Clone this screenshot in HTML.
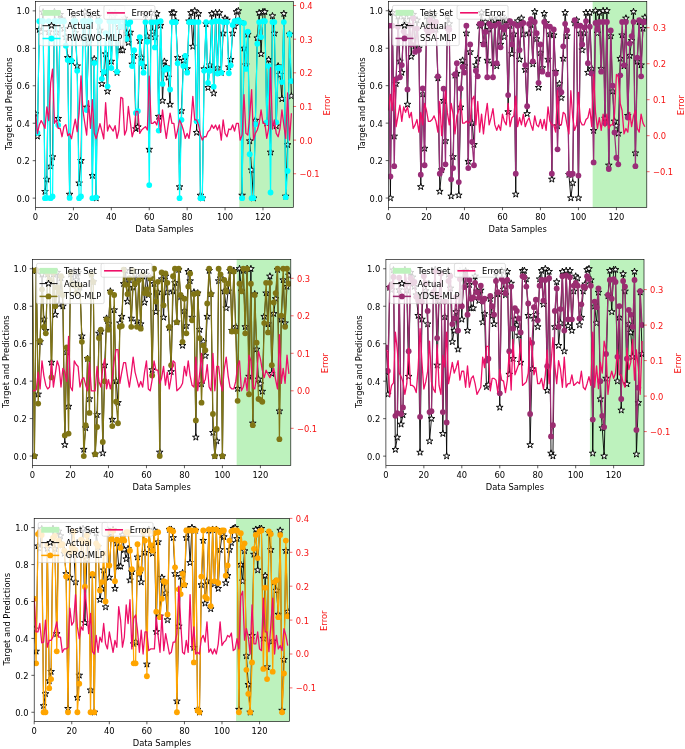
<!DOCTYPE html>
<html><head><meta charset="utf-8"><title>Target and Predictions</title>
<style>html,body{margin:0;padding:0;background:#fff}svg{display:block}#fig{width:685px;height:749px;will-change:transform;background:#fff}</style></head>
<body>
<div id="fig">
<svg width="685" height="749" viewBox="0 0 685 749" font-family='"DejaVu Sans","Liberation Sans",sans-serif' font-size="8.35">
<defs><path id="st" d="M0 -3.5 L0.79 -1.08 L3.33 -1.08 L1.27 0.41 L2.06 2.83 L0 1.34 L-2.06 2.83 L-1.27 0.41 L-3.33 -1.08 L-0.79 -1.08Z" fill="#fff" stroke="#000" stroke-width="0.95" stroke-linejoin="miter"/></defs>
<rect width="685" height="749" fill="#fff"/>
<g id="panel1">
<clipPath id="c0"><rect x="35.5" y="1.5" width="257.8" height="206"/></clipPath>
<rect x="239.28" y="1.5" width="54.02" height="206" fill="#bdf2bd"/>
<g clip-path="url(#c0)">
<polyline points="35.5,113.86 37.4,136.34 39.29,29.59 41.19,32.03 43.08,12.17 44.98,191.58 46.87,179.41 48.77,32.03 50.66,166.3 52.56,156.94 54.46,11.8 56.35,32.4 58.25,118.55 60.14,14.61 62.04,19.29 63.93,28.65 65.83,37.08 67.72,57.68 69.62,194.39 71.52,61.43 73.41,14.61 75.31,32.77 77.2,66.11 79.1,183.15 80.99,160.68 82.89,38.02 84.79,11.8 86.68,107.31 88.58,43.07 90.47,14.61 92.37,175.66 94.26,58.99 96.16,198.14 98.05,16.48 99.95,30.34 101.85,83.9 103.74,72.66 105.64,53.94 107.53,91.39 109.43,12.74 111.32,61.43 113.22,16.11 115.11,13.11 117.01,72.66 118.91,26.78 120.8,50.19 122.7,50.19 124.59,18.35 126.49,33.34 128.38,42.7 130.28,32.4 132.18,64.24 134.07,55.81 135.97,128.85 137.86,126.97 139.76,40.83 141.65,57.68 143.55,66.11 145.44,14.61 147.34,36.15 149.24,149.45 151.13,12.74 153.03,31.46 154.92,37.08 156.82,13.67 158.71,116.49 160.61,25.47 162.5,100.75 164.4,61.43 166.3,67.05 168.19,77.35 170.09,104.5 171.98,12.74 173.88,12.74 175.77,21.16 177.67,57.68 179.56,186.9 181.46,110.87 183.36,60.49 185.25,56.75 187.15,68.92 189.04,21.16 190.94,12.74 192.83,46.45 194.73,10.86 196.62,132.59 198.52,13.67 200.42,195.33 202.31,198.14 204.21,68.92 206.1,23.97 208,87.65 209.89,65.17 211.79,13.67 213.69,93.26 215.58,12.74 217.48,67.98 219.37,12.74 221.27,72.66 223.16,33.34 225.06,18.35 226.95,20.23 228.85,67.05 230.75,59.55 232.64,33.34 234.54,26.22 236.43,11.8 238.33,10.86 240.22,22.1 242.12,195.33 244.01,48.32 245.91,65.17 247.81,34.46 249.7,141.02 251.6,170.05 253.49,198.14 255.39,120.42 257.28,38.02 259.18,12.74 261.08,53.94 262.97,11.8 264.87,11.8 266.76,123.23 268.66,59.55 270.55,152.25 272.45,15.92 274.34,33.34 276.24,126.04 278.14,66.11 280.03,74.54 281.93,98.88 283.82,13.67 285.72,196.26 287.61,144.76 289.51,34.27 291.4,96.07" fill="none" stroke="#000" stroke-width="0.9" stroke-linejoin="round"/>
<use href="#st" x="35.5" y="113.86"/><use href="#st" x="37.4" y="136.34"/><use href="#st" x="39.29" y="29.59"/><use href="#st" x="41.19" y="32.03"/><use href="#st" x="43.08" y="12.17"/><use href="#st" x="44.98" y="191.58"/><use href="#st" x="46.87" y="179.41"/><use href="#st" x="48.77" y="32.03"/><use href="#st" x="50.66" y="166.3"/><use href="#st" x="52.56" y="156.94"/><use href="#st" x="54.46" y="11.8"/><use href="#st" x="56.35" y="32.4"/><use href="#st" x="58.25" y="118.55"/><use href="#st" x="60.14" y="14.61"/><use href="#st" x="62.04" y="19.29"/><use href="#st" x="63.93" y="28.65"/><use href="#st" x="65.83" y="37.08"/><use href="#st" x="67.72" y="57.68"/><use href="#st" x="69.62" y="194.39"/><use href="#st" x="71.52" y="61.43"/><use href="#st" x="73.41" y="14.61"/><use href="#st" x="75.31" y="32.77"/><use href="#st" x="77.2" y="66.11"/><use href="#st" x="79.1" y="183.15"/><use href="#st" x="80.99" y="160.68"/><use href="#st" x="82.89" y="38.02"/><use href="#st" x="84.79" y="11.8"/><use href="#st" x="86.68" y="107.31"/><use href="#st" x="88.58" y="43.07"/><use href="#st" x="90.47" y="14.61"/><use href="#st" x="92.37" y="175.66"/><use href="#st" x="94.26" y="58.99"/><use href="#st" x="96.16" y="198.14"/><use href="#st" x="98.05" y="16.48"/><use href="#st" x="99.95" y="30.34"/><use href="#st" x="101.85" y="83.9"/><use href="#st" x="103.74" y="72.66"/><use href="#st" x="105.64" y="53.94"/><use href="#st" x="107.53" y="91.39"/><use href="#st" x="109.43" y="12.74"/><use href="#st" x="111.32" y="61.43"/><use href="#st" x="113.22" y="16.11"/><use href="#st" x="115.11" y="13.11"/><use href="#st" x="117.01" y="72.66"/><use href="#st" x="118.91" y="26.78"/><use href="#st" x="120.8" y="50.19"/><use href="#st" x="122.7" y="50.19"/><use href="#st" x="124.59" y="18.35"/><use href="#st" x="126.49" y="33.34"/><use href="#st" x="128.38" y="42.7"/><use href="#st" x="130.28" y="32.4"/><use href="#st" x="132.18" y="64.24"/><use href="#st" x="134.07" y="55.81"/><use href="#st" x="135.97" y="128.85"/><use href="#st" x="137.86" y="126.97"/><use href="#st" x="139.76" y="40.83"/><use href="#st" x="141.65" y="57.68"/><use href="#st" x="143.55" y="66.11"/><use href="#st" x="145.44" y="14.61"/><use href="#st" x="147.34" y="36.15"/><use href="#st" x="149.24" y="149.45"/><use href="#st" x="151.13" y="12.74"/><use href="#st" x="153.03" y="31.46"/><use href="#st" x="154.92" y="37.08"/><use href="#st" x="156.82" y="13.67"/><use href="#st" x="158.71" y="116.49"/><use href="#st" x="160.61" y="25.47"/><use href="#st" x="162.5" y="100.75"/><use href="#st" x="164.4" y="61.43"/><use href="#st" x="166.3" y="67.05"/><use href="#st" x="168.19" y="77.35"/><use href="#st" x="170.09" y="104.5"/><use href="#st" x="171.98" y="12.74"/><use href="#st" x="173.88" y="12.74"/><use href="#st" x="175.77" y="21.16"/><use href="#st" x="177.67" y="57.68"/><use href="#st" x="179.56" y="186.9"/><use href="#st" x="181.46" y="110.87"/><use href="#st" x="183.36" y="60.49"/><use href="#st" x="185.25" y="56.75"/><use href="#st" x="187.15" y="68.92"/><use href="#st" x="189.04" y="21.16"/><use href="#st" x="190.94" y="12.74"/><use href="#st" x="192.83" y="46.45"/><use href="#st" x="194.73" y="10.86"/><use href="#st" x="196.62" y="132.59"/><use href="#st" x="198.52" y="13.67"/><use href="#st" x="200.42" y="195.33"/><use href="#st" x="202.31" y="198.14"/><use href="#st" x="204.21" y="68.92"/><use href="#st" x="206.1" y="23.97"/><use href="#st" x="208" y="87.65"/><use href="#st" x="209.89" y="65.17"/><use href="#st" x="211.79" y="13.67"/><use href="#st" x="213.69" y="93.26"/><use href="#st" x="215.58" y="12.74"/><use href="#st" x="217.48" y="67.98"/><use href="#st" x="219.37" y="12.74"/><use href="#st" x="221.27" y="72.66"/><use href="#st" x="223.16" y="33.34"/><use href="#st" x="225.06" y="18.35"/><use href="#st" x="226.95" y="20.23"/><use href="#st" x="228.85" y="67.05"/><use href="#st" x="230.75" y="59.55"/><use href="#st" x="232.64" y="33.34"/><use href="#st" x="234.54" y="26.22"/><use href="#st" x="236.43" y="11.8"/><use href="#st" x="238.33" y="10.86"/><use href="#st" x="240.22" y="22.1"/><use href="#st" x="242.12" y="195.33"/><use href="#st" x="244.01" y="48.32"/><use href="#st" x="245.91" y="65.17"/><use href="#st" x="247.81" y="34.46"/><use href="#st" x="249.7" y="141.02"/><use href="#st" x="251.6" y="170.05"/><use href="#st" x="253.49" y="198.14"/><use href="#st" x="255.39" y="120.42"/><use href="#st" x="257.28" y="38.02"/><use href="#st" x="259.18" y="12.74"/><use href="#st" x="261.08" y="53.94"/><use href="#st" x="262.97" y="11.8"/><use href="#st" x="264.87" y="11.8"/><use href="#st" x="266.76" y="123.23"/><use href="#st" x="268.66" y="59.55"/><use href="#st" x="270.55" y="152.25"/><use href="#st" x="272.45" y="15.92"/><use href="#st" x="274.34" y="33.34"/><use href="#st" x="276.24" y="126.04"/><use href="#st" x="278.14" y="66.11"/><use href="#st" x="280.03" y="74.54"/><use href="#st" x="281.93" y="98.88"/><use href="#st" x="283.82" y="13.67"/><use href="#st" x="285.72" y="196.26"/><use href="#st" x="287.61" y="144.76"/><use href="#st" x="289.51" y="34.27"/><use href="#st" x="291.4" y="96.07"/>
<polyline points="35.5,128.1 37.4,132.78 39.29,21.16 41.19,21.16 43.08,21.16 44.98,198.14 46.87,197.95 48.77,21.16 50.66,198.14 52.56,196.45 54.46,21.16 56.35,21.16 58.25,125.1 60.14,21.16 62.04,21.16 63.93,21.16 65.83,45.7 67.72,60.12 69.62,197.95 71.52,60.68 73.41,21.16 75.31,21.16 77.2,70.79 79.1,198.14 80.99,196.45 82.89,21.16 84.79,21.16 86.68,110.12 88.58,21.16 90.47,21.16 92.37,198.14 94.26,62.93 96.16,197.39 98.05,21.16 99.95,21.16 101.85,78.84 103.74,71.91 105.64,33.15 107.53,86.33 109.43,21.16 111.32,67.98 113.22,21.16 115.11,21.16 117.01,71.73 118.91,21.16 120.8,26.41 122.7,26.97 124.59,21.16 126.49,38.95 128.38,23.97 130.28,22.1 132.18,66.11 134.07,50.19 135.97,112.93 137.86,111.05 139.76,37.08 141.65,63.3 143.55,72.66 145.44,22.1 147.34,41.76 149.24,185.03 151.13,22.1 153.03,22.1 154.92,47.38 156.82,22.1 158.71,130.53 160.61,21.16 162.5,83.9 164.4,69.85 166.3,67.98 168.19,68.92 170.09,89.52 171.98,22.1 173.88,22.1 175.77,22.1 177.67,63.3 179.56,198.14 181.46,119.86 183.36,66.11 185.25,55.81 187.15,72.66 189.04,22.1 190.94,22.1 192.83,22.1 194.73,22.1 196.62,121.35 198.52,22.1 200.42,198.14 202.31,198.14 204.21,70.79 206.1,22.1 208,82.96 209.89,70.79 211.79,22.1 213.69,86.71 215.58,21.16 217.48,73.6 219.37,21.16 221.27,72.66 223.16,22.1 225.06,22.1 226.95,22.1 228.85,73.23 230.75,65.36 232.64,24.91 234.54,21.16 236.43,21.16 238.33,20.23 240.22,22.1 242.12,198.14 244.01,23.04 245.91,68.92 247.81,31.65 249.7,154.13 251.6,198.14 253.49,198.14 255.39,124.16 257.28,43.64 259.18,22.1 261.08,37.08 262.97,21.16 264.87,21.16 266.76,122.29 268.66,66.11 270.55,192.52 272.45,22.1 274.34,22.1 276.24,122.29 278.14,67.98 280.03,67.98 281.93,82.03 283.82,22.1 285.72,197.2 287.61,170.98 289.51,34.27 291.4,81.09" fill="none" stroke="#00ffff" stroke-width="1.25" stroke-linejoin="round"/>
<g fill="#00ffff"><circle cx="35.5" cy="128.1" r="2.9"/><circle cx="37.4" cy="132.78" r="2.9"/><circle cx="39.29" cy="21.16" r="2.9"/><circle cx="41.19" cy="21.16" r="2.9"/><circle cx="43.08" cy="21.16" r="2.9"/><circle cx="44.98" cy="198.14" r="2.9"/><circle cx="46.87" cy="197.95" r="2.9"/><circle cx="48.77" cy="21.16" r="2.9"/><circle cx="50.66" cy="198.14" r="2.9"/><circle cx="52.56" cy="196.45" r="2.9"/><circle cx="54.46" cy="21.16" r="2.9"/><circle cx="56.35" cy="21.16" r="2.9"/><circle cx="58.25" cy="125.1" r="2.9"/><circle cx="60.14" cy="21.16" r="2.9"/><circle cx="62.04" cy="21.16" r="2.9"/><circle cx="63.93" cy="21.16" r="2.9"/><circle cx="65.83" cy="45.7" r="2.9"/><circle cx="67.72" cy="60.12" r="2.9"/><circle cx="69.62" cy="197.95" r="2.9"/><circle cx="71.52" cy="60.68" r="2.9"/><circle cx="73.41" cy="21.16" r="2.9"/><circle cx="75.31" cy="21.16" r="2.9"/><circle cx="77.2" cy="70.79" r="2.9"/><circle cx="79.1" cy="198.14" r="2.9"/><circle cx="80.99" cy="196.45" r="2.9"/><circle cx="82.89" cy="21.16" r="2.9"/><circle cx="84.79" cy="21.16" r="2.9"/><circle cx="86.68" cy="110.12" r="2.9"/><circle cx="88.58" cy="21.16" r="2.9"/><circle cx="90.47" cy="21.16" r="2.9"/><circle cx="92.37" cy="198.14" r="2.9"/><circle cx="94.26" cy="62.93" r="2.9"/><circle cx="96.16" cy="197.39" r="2.9"/><circle cx="98.05" cy="21.16" r="2.9"/><circle cx="99.95" cy="21.16" r="2.9"/><circle cx="101.85" cy="78.84" r="2.9"/><circle cx="103.74" cy="71.91" r="2.9"/><circle cx="105.64" cy="33.15" r="2.9"/><circle cx="107.53" cy="86.33" r="2.9"/><circle cx="109.43" cy="21.16" r="2.9"/><circle cx="111.32" cy="67.98" r="2.9"/><circle cx="113.22" cy="21.16" r="2.9"/><circle cx="115.11" cy="21.16" r="2.9"/><circle cx="117.01" cy="71.73" r="2.9"/><circle cx="118.91" cy="21.16" r="2.9"/><circle cx="120.8" cy="26.41" r="2.9"/><circle cx="122.7" cy="26.97" r="2.9"/><circle cx="124.59" cy="21.16" r="2.9"/><circle cx="126.49" cy="38.95" r="2.9"/><circle cx="128.38" cy="23.97" r="2.9"/><circle cx="130.28" cy="22.1" r="2.9"/><circle cx="132.18" cy="66.11" r="2.9"/><circle cx="134.07" cy="50.19" r="2.9"/><circle cx="135.97" cy="112.93" r="2.9"/><circle cx="137.86" cy="111.05" r="2.9"/><circle cx="139.76" cy="37.08" r="2.9"/><circle cx="141.65" cy="63.3" r="2.9"/><circle cx="143.55" cy="72.66" r="2.9"/><circle cx="145.44" cy="22.1" r="2.9"/><circle cx="147.34" cy="41.76" r="2.9"/><circle cx="149.24" cy="185.03" r="2.9"/><circle cx="151.13" cy="22.1" r="2.9"/><circle cx="153.03" cy="22.1" r="2.9"/><circle cx="154.92" cy="47.38" r="2.9"/><circle cx="156.82" cy="22.1" r="2.9"/><circle cx="158.71" cy="130.53" r="2.9"/><circle cx="160.61" cy="21.16" r="2.9"/><circle cx="162.5" cy="83.9" r="2.9"/><circle cx="164.4" cy="69.85" r="2.9"/><circle cx="166.3" cy="67.98" r="2.9"/><circle cx="168.19" cy="68.92" r="2.9"/><circle cx="170.09" cy="89.52" r="2.9"/><circle cx="171.98" cy="22.1" r="2.9"/><circle cx="173.88" cy="22.1" r="2.9"/><circle cx="175.77" cy="22.1" r="2.9"/><circle cx="177.67" cy="63.3" r="2.9"/><circle cx="179.56" cy="198.14" r="2.9"/><circle cx="181.46" cy="119.86" r="2.9"/><circle cx="183.36" cy="66.11" r="2.9"/><circle cx="185.25" cy="55.81" r="2.9"/><circle cx="187.15" cy="72.66" r="2.9"/><circle cx="189.04" cy="22.1" r="2.9"/><circle cx="190.94" cy="22.1" r="2.9"/><circle cx="192.83" cy="22.1" r="2.9"/><circle cx="194.73" cy="22.1" r="2.9"/><circle cx="196.62" cy="121.35" r="2.9"/><circle cx="198.52" cy="22.1" r="2.9"/><circle cx="200.42" cy="198.14" r="2.9"/><circle cx="202.31" cy="198.14" r="2.9"/><circle cx="204.21" cy="70.79" r="2.9"/><circle cx="206.1" cy="22.1" r="2.9"/><circle cx="208" cy="82.96" r="2.9"/><circle cx="209.89" cy="70.79" r="2.9"/><circle cx="211.79" cy="22.1" r="2.9"/><circle cx="213.69" cy="86.71" r="2.9"/><circle cx="215.58" cy="21.16" r="2.9"/><circle cx="217.48" cy="73.6" r="2.9"/><circle cx="219.37" cy="21.16" r="2.9"/><circle cx="221.27" cy="72.66" r="2.9"/><circle cx="223.16" cy="22.1" r="2.9"/><circle cx="225.06" cy="22.1" r="2.9"/><circle cx="226.95" cy="22.1" r="2.9"/><circle cx="228.85" cy="73.23" r="2.9"/><circle cx="230.75" cy="65.36" r="2.9"/><circle cx="232.64" cy="24.91" r="2.9"/><circle cx="234.54" cy="21.16" r="2.9"/><circle cx="236.43" cy="21.16" r="2.9"/><circle cx="238.33" cy="20.23" r="2.9"/><circle cx="240.22" cy="22.1" r="2.9"/><circle cx="242.12" cy="198.14" r="2.9"/><circle cx="244.01" cy="23.04" r="2.9"/><circle cx="245.91" cy="68.92" r="2.9"/><circle cx="247.81" cy="31.65" r="2.9"/><circle cx="249.7" cy="154.13" r="2.9"/><circle cx="251.6" cy="198.14" r="2.9"/><circle cx="253.49" cy="198.14" r="2.9"/><circle cx="255.39" cy="124.16" r="2.9"/><circle cx="257.28" cy="43.64" r="2.9"/><circle cx="259.18" cy="22.1" r="2.9"/><circle cx="261.08" cy="37.08" r="2.9"/><circle cx="262.97" cy="21.16" r="2.9"/><circle cx="264.87" cy="21.16" r="2.9"/><circle cx="266.76" cy="122.29" r="2.9"/><circle cx="268.66" cy="66.11" r="2.9"/><circle cx="270.55" cy="192.52" r="2.9"/><circle cx="272.45" cy="22.1" r="2.9"/><circle cx="274.34" cy="22.1" r="2.9"/><circle cx="276.24" cy="122.29" r="2.9"/><circle cx="278.14" cy="67.98" r="2.9"/><circle cx="280.03" cy="67.98" r="2.9"/><circle cx="281.93" cy="82.03" r="2.9"/><circle cx="283.82" cy="22.1" r="2.9"/><circle cx="285.72" cy="197.2" r="2.9"/><circle cx="287.61" cy="170.98" r="2.9"/><circle cx="289.51" cy="34.27" r="2.9"/><circle cx="291.4" cy="81.09" r="2.9"/></g>
</g>
<g stroke="#000" stroke-width="0.64">
<line x1="32.7" x2="35.5" y1="198.14" y2="198.14"/>
<line x1="32.7" x2="35.5" y1="160.68" y2="160.68"/>
<line x1="32.7" x2="35.5" y1="123.23" y2="123.23"/>
<line x1="32.7" x2="35.5" y1="85.77" y2="85.77"/>
<line x1="32.7" x2="35.5" y1="48.32" y2="48.32"/>
<line x1="32.7" x2="35.5" y1="10.86" y2="10.86"/>
<line x1="35.5" x2="35.5" y1="207.5" y2="210.3"/>
<line x1="73.41" x2="73.41" y1="207.5" y2="210.3"/>
<line x1="111.32" x2="111.32" y1="207.5" y2="210.3"/>
<line x1="149.24" x2="149.24" y1="207.5" y2="210.3"/>
<line x1="187.15" x2="187.15" y1="207.5" y2="210.3"/>
<line x1="225.06" x2="225.06" y1="207.5" y2="210.3"/>
<line x1="262.97" x2="262.97" y1="207.5" y2="210.3"/>
</g>
<g fill="#000">
<text x="29.9" y="201.64" text-anchor="end">0.0</text>
<text x="29.9" y="164.18" text-anchor="end">0.2</text>
<text x="29.9" y="126.73" text-anchor="end">0.4</text>
<text x="29.9" y="89.27" text-anchor="end">0.6</text>
<text x="29.9" y="51.82" text-anchor="end">0.8</text>
<text x="29.9" y="14.36" text-anchor="end">1.0</text>
<text x="35.5" y="219.5" text-anchor="middle">0</text>
<text x="73.41" y="219.5" text-anchor="middle">20</text>
<text x="111.32" y="219.5" text-anchor="middle">40</text>
<text x="149.24" y="219.5" text-anchor="middle">60</text>
<text x="187.15" y="219.5" text-anchor="middle">80</text>
<text x="225.06" y="219.5" text-anchor="middle">100</text>
<text x="262.97" y="219.5" text-anchor="middle">120</text>
<text x="164.4" y="231.7" text-anchor="middle">Data Samples</text>
<text transform="translate(11.5 103.7) rotate(-90)" text-anchor="middle">Target and Predictions</text>
</g>
<g id="leg1a">
<rect x="39.5" y="5.5" width="85.4" height="40.2" rx="1.6" fill="#fff" fill-opacity="0.8" stroke="#ccc" stroke-opacity="0.8" stroke-width="0.8"/>
<rect x="42.5" y="10" width="18" height="5.8" fill="#bdf2bd"/>
<text x="67.1" y="15.8">Test Set</text>
<line x1="42.5" x2="60.5" y1="25.7" y2="25.7" stroke="#000" stroke-width="0.9"/>
<use href="#st" x="51.5" y="25.7"/>
<text x="67.1" y="28.6">Actual</text>
<line x1="42.5" x2="60.5" y1="38.5" y2="38.5" stroke="#00ffff" stroke-width="1.5"/>
<circle cx="51.5" cy="38.5" r="2.9" fill="#00ffff"/>
<text x="67.1" y="41.4">RWGWO-MLP</text>
</g>
<polyline clip-path="url(#c0)" points="35.5,114.53 37.4,133.71 39.29,124.96 41.19,120.59 43.08,123.95 44.98,128.33 46.87,106.8 48.77,120.59 50.66,82.91 52.56,69.12 54.46,123.28 56.35,119.92 58.25,128.33 60.14,128.33 62.04,136.74 63.93,126.64 65.83,124.63 67.72,135.73 69.62,133.71 71.52,138.75 73.41,128.33 75.31,119.24 77.2,131.69 79.1,113.19 80.99,75.85 82.89,109.82 84.79,123.28 86.68,135.05 88.58,100.74 90.47,128.33 92.37,99.73 94.26,133.04 96.16,138.75 98.05,131.69 99.95,123.62 101.85,131.02 103.74,138.75 105.64,102.76 107.53,131.02 109.43,124.96 111.32,128.33 113.22,131.02 115.11,125.63 117.01,138.42 118.91,130.01 120.8,97.38 122.7,98.39 124.59,135.05 126.49,130.01 128.38,106.46 130.28,121.6 132.18,136.74 134.07,130.01 135.97,111.51 137.86,111.51 139.76,133.37 141.65,130.01 143.55,128.33 145.44,126.64 147.34,130.01 149.24,76.18 151.13,123.28 153.03,123.28 154.92,121.6 156.82,124.96 158.71,114.87 160.61,132.36 162.5,109.82 164.4,124.96 166.3,138.42 168.19,124.96 170.09,113.19 171.98,123.28 173.88,123.28 175.77,138.42 177.67,130.01 179.56,119.92 181.46,123.95 183.36,130.01 185.25,138.42 187.15,133.37 189.04,138.42 190.94,123.28 192.83,96.37 194.73,119.92 196.62,119.92 198.52,124.96 200.42,135.05 202.31,140.1 204.21,136.74 206.1,136.74 208,131.69 209.89,130.01 211.79,124.96 213.69,128.33 215.58,124.96 217.48,130.01 219.37,124.96 221.27,140.1 223.16,119.92 225.06,133.37 226.95,136.74 228.85,129 230.75,129.67 232.64,124.96 234.54,131.02 236.43,123.28 238.33,123.28 240.22,140.1 242.12,135.05 244.01,94.69 245.91,133.37 247.81,135.05 249.7,116.55 251.6,89.64 253.49,140.1 255.39,133.37 257.28,130.01 259.18,123.28 261.08,109.82 262.97,123.28 264.87,123.28 266.76,138.42 268.66,128.33 270.55,67.77 272.45,129 274.34,119.92 276.24,133.37 278.14,136.74 280.03,128.33 281.93,109.82 283.82,124.96 285.72,138.42 287.61,93 289.51,140.1 291.4,113.19" fill="none" stroke="#ee0f68" stroke-width="1.3" stroke-linejoin="round"/>
<g stroke="#f61212" stroke-width="0.64">
<line x1="293.3" x2="296.1" y1="173.74" y2="173.74"/>
<line x1="293.3" x2="296.1" y1="140.1" y2="140.1"/>
<line x1="293.3" x2="296.1" y1="106.46" y2="106.46"/>
<line x1="293.3" x2="296.1" y1="72.82" y2="72.82"/>
<line x1="293.3" x2="296.1" y1="39.18" y2="39.18"/>
<line x1="293.3" x2="296.1" y1="5.54" y2="5.54"/>
</g>
<g fill="#f61212">
<text x="299.4" y="177.14">−0.1</text>
<text x="299.4" y="143.5">0.0</text>
<text x="299.4" y="109.86">0.1</text>
<text x="299.4" y="76.22">0.2</text>
<text x="299.4" y="42.58">0.3</text>
<text x="299.4" y="8.94">0.4</text>
<text transform="translate(330.4 105.3) rotate(-90)" text-anchor="middle">Error</text>
</g>
<g id="leg1b">
<rect x="103.95" y="5.5" width="51" height="13.8" rx="1.6" fill="#fff" fill-opacity="0.8" stroke="#ccc" stroke-opacity="0.8" stroke-width="0.8"/>
<line x1="106.95" x2="124.95" y1="12.9" y2="12.9" stroke="#ee0f68" stroke-width="1.6"/>
<text x="131.55" y="15.8">Error</text>
</g>
<rect x="35.5" y="1.5" width="257.8" height="206" fill="none" stroke="#000" stroke-width="0.64"/>
</g>
<g id="panel2">
<clipPath id="c1"><rect x="388.5" y="1.4" width="258.3" height="206"/></clipPath>
<rect x="592.67" y="1.4" width="54.13" height="206" fill="#bdf2bd"/>
<g clip-path="url(#c1)">
<polyline points="388.5,12.64 390.4,198.04 392.3,12.64 394.2,136.24 396.1,83.8 398,16.38 399.9,61.33 401.79,72.56 403.69,16.38 405.59,23.87 407.49,104.4 409.39,16.38 411.29,56.65 413.19,14.51 415.09,46.35 416.99,20.13 418.89,48.22 420.79,186.8 422.69,94.1 424.59,148.41 426.49,16.38 428.38,25.75 430.28,12.64 432.18,22 434.08,14.51 435.98,29.49 437.88,78.18 439.78,191.48 441.68,169.95 443.58,100.65 445.48,140.92 447.38,16.38 449.28,23.87 451.18,196.16 453.07,156.84 454.97,75.37 456.87,73.5 458.77,195.23 460.67,107.21 462.57,60.39 464.47,66.01 466.37,33.24 468.27,161.52 470.17,51.96 472.07,123.13 473.97,144.66 475.87,65.07 477.77,58.52 479.66,25.75 481.56,12.64 483.46,43.54 485.36,22 487.26,60.39 489.16,29.49 491.06,16.38 492.96,63.2 494.86,20.13 496.76,66.01 498.66,18.25 500.56,44.47 502.46,16.38 504.36,36.98 506.25,20.13 508.15,111.89 510.05,25.75 511.95,53.84 513.85,34.17 515.75,194.29 517.65,21.06 519.55,59.45 521.45,18.25 523.35,34.17 525.25,69.75 527.15,113.76 529.05,33.24 530.94,24.81 532.84,64.14 534.74,11.7 536.64,38.85 538.54,87.55 540.44,52.9 542.34,67.88 544.24,13.57 546.14,22.94 548.04,59.45 549.94,34.17 551.84,179.31 553.74,35.11 555.64,71.63 557.53,125.94 559.43,83.8 561.33,97.85 563.23,58.52 565.13,12.64 567.03,36.05 568.93,174.63 570.83,198.04 572.73,183.05 574.63,22.94 576.53,20.13 578.43,198.04 580.33,33.24 582.22,50.09 584.12,33.24 586.02,12.64 587.92,72.56 589.82,12.64 591.72,68.82 593.62,130.62 595.52,10.76 597.42,33.24 599.32,12.64 601.22,68.82 603.12,10.76 605.02,118.45 606.92,10.76 608.81,165.26 610.71,36.05 612.61,91.29 614.51,121.25 616.41,125.94 618.31,133.43 620.21,58.52 622.11,35.11 624.01,66.01 625.91,18.25 627.81,115.64 629.71,55.71 631.61,40.73 633.51,11.7 635.4,153.09 637.3,61.33 639.2,22 641.1,65.07 643,28.55 644.9,17.32" fill="none" stroke="#000" stroke-width="0.9" stroke-linejoin="round"/>
<use href="#st" x="388.5" y="12.64"/><use href="#st" x="390.4" y="198.04"/><use href="#st" x="392.3" y="12.64"/><use href="#st" x="394.2" y="136.24"/><use href="#st" x="396.1" y="83.8"/><use href="#st" x="398" y="16.38"/><use href="#st" x="399.9" y="61.33"/><use href="#st" x="401.79" y="72.56"/><use href="#st" x="403.69" y="16.38"/><use href="#st" x="405.59" y="23.87"/><use href="#st" x="407.49" y="104.4"/><use href="#st" x="409.39" y="16.38"/><use href="#st" x="411.29" y="56.65"/><use href="#st" x="413.19" y="14.51"/><use href="#st" x="415.09" y="46.35"/><use href="#st" x="416.99" y="20.13"/><use href="#st" x="418.89" y="48.22"/><use href="#st" x="420.79" y="186.8"/><use href="#st" x="422.69" y="94.1"/><use href="#st" x="424.59" y="148.41"/><use href="#st" x="426.49" y="16.38"/><use href="#st" x="428.38" y="25.75"/><use href="#st" x="430.28" y="12.64"/><use href="#st" x="432.18" y="22"/><use href="#st" x="434.08" y="14.51"/><use href="#st" x="435.98" y="29.49"/><use href="#st" x="437.88" y="78.18"/><use href="#st" x="439.78" y="191.48"/><use href="#st" x="441.68" y="169.95"/><use href="#st" x="443.58" y="100.65"/><use href="#st" x="445.48" y="140.92"/><use href="#st" x="447.38" y="16.38"/><use href="#st" x="449.28" y="23.87"/><use href="#st" x="451.18" y="196.16"/><use href="#st" x="453.07" y="156.84"/><use href="#st" x="454.97" y="75.37"/><use href="#st" x="456.87" y="73.5"/><use href="#st" x="458.77" y="195.23"/><use href="#st" x="460.67" y="107.21"/><use href="#st" x="462.57" y="60.39"/><use href="#st" x="464.47" y="66.01"/><use href="#st" x="466.37" y="33.24"/><use href="#st" x="468.27" y="161.52"/><use href="#st" x="470.17" y="51.96"/><use href="#st" x="472.07" y="123.13"/><use href="#st" x="473.97" y="144.66"/><use href="#st" x="475.87" y="65.07"/><use href="#st" x="477.77" y="58.52"/><use href="#st" x="479.66" y="25.75"/><use href="#st" x="481.56" y="12.64"/><use href="#st" x="483.46" y="43.54"/><use href="#st" x="485.36" y="22"/><use href="#st" x="487.26" y="60.39"/><use href="#st" x="489.16" y="29.49"/><use href="#st" x="491.06" y="16.38"/><use href="#st" x="492.96" y="63.2"/><use href="#st" x="494.86" y="20.13"/><use href="#st" x="496.76" y="66.01"/><use href="#st" x="498.66" y="18.25"/><use href="#st" x="500.56" y="44.47"/><use href="#st" x="502.46" y="16.38"/><use href="#st" x="504.36" y="36.98"/><use href="#st" x="506.25" y="20.13"/><use href="#st" x="508.15" y="111.89"/><use href="#st" x="510.05" y="25.75"/><use href="#st" x="511.95" y="53.84"/><use href="#st" x="513.85" y="34.17"/><use href="#st" x="515.75" y="194.29"/><use href="#st" x="517.65" y="21.06"/><use href="#st" x="519.55" y="59.45"/><use href="#st" x="521.45" y="18.25"/><use href="#st" x="523.35" y="34.17"/><use href="#st" x="525.25" y="69.75"/><use href="#st" x="527.15" y="113.76"/><use href="#st" x="529.05" y="33.24"/><use href="#st" x="530.94" y="24.81"/><use href="#st" x="532.84" y="64.14"/><use href="#st" x="534.74" y="11.7"/><use href="#st" x="536.64" y="38.85"/><use href="#st" x="538.54" y="87.55"/><use href="#st" x="540.44" y="52.9"/><use href="#st" x="542.34" y="67.88"/><use href="#st" x="544.24" y="13.57"/><use href="#st" x="546.14" y="22.94"/><use href="#st" x="548.04" y="59.45"/><use href="#st" x="549.94" y="34.17"/><use href="#st" x="551.84" y="179.31"/><use href="#st" x="553.74" y="35.11"/><use href="#st" x="555.64" y="71.63"/><use href="#st" x="557.53" y="125.94"/><use href="#st" x="559.43" y="83.8"/><use href="#st" x="561.33" y="97.85"/><use href="#st" x="563.23" y="58.52"/><use href="#st" x="565.13" y="12.64"/><use href="#st" x="567.03" y="36.05"/><use href="#st" x="568.93" y="174.63"/><use href="#st" x="570.83" y="198.04"/><use href="#st" x="572.73" y="183.05"/><use href="#st" x="574.63" y="22.94"/><use href="#st" x="576.53" y="20.13"/><use href="#st" x="578.43" y="198.04"/><use href="#st" x="580.33" y="33.24"/><use href="#st" x="582.22" y="50.09"/><use href="#st" x="584.12" y="33.24"/><use href="#st" x="586.02" y="12.64"/><use href="#st" x="587.92" y="72.56"/><use href="#st" x="589.82" y="12.64"/><use href="#st" x="591.72" y="68.82"/><use href="#st" x="593.62" y="130.62"/><use href="#st" x="595.52" y="10.76"/><use href="#st" x="597.42" y="33.24"/><use href="#st" x="599.32" y="12.64"/><use href="#st" x="601.22" y="68.82"/><use href="#st" x="603.12" y="10.76"/><use href="#st" x="605.02" y="118.45"/><use href="#st" x="606.92" y="10.76"/><use href="#st" x="608.81" y="165.26"/><use href="#st" x="610.71" y="36.05"/><use href="#st" x="612.61" y="91.29"/><use href="#st" x="614.51" y="121.25"/><use href="#st" x="616.41" y="125.94"/><use href="#st" x="618.31" y="133.43"/><use href="#st" x="620.21" y="58.52"/><use href="#st" x="622.11" y="35.11"/><use href="#st" x="624.01" y="66.01"/><use href="#st" x="625.91" y="18.25"/><use href="#st" x="627.81" y="115.64"/><use href="#st" x="629.71" y="55.71"/><use href="#st" x="631.61" y="40.73"/><use href="#st" x="633.51" y="11.7"/><use href="#st" x="635.4" y="153.09"/><use href="#st" x="637.3" y="61.33"/><use href="#st" x="639.2" y="22"/><use href="#st" x="641.1" y="65.07"/><use href="#st" x="643" y="28.55"/><use href="#st" x="644.9" y="17.32"/>
<polyline points="388.5,25.75 390.4,176.5 392.3,25.75 394.2,166.2 396.1,79.12 398,26.68 399.9,77.25 401.79,65.07 403.69,31.36 405.59,36.05 407.49,89.42 409.39,25.75 411.29,44.47 413.19,18.25 415.09,51.96 416.99,28.55 418.89,50.09 420.79,174.63 422.69,88.48 424.59,165.26 426.49,29.49 428.38,33.24 430.28,20.13 432.18,30.43 434.08,24.81 435.98,22 437.88,76.31 439.78,173.69 441.68,169.95 443.58,88.67 445.48,164.33 447.38,28.37 449.28,29.49 451.18,179.31 453.07,168.07 454.97,74.44 456.87,63.2 458.77,182.12 460.67,88.48 462.57,66.95 464.47,72.56 466.37,25.75 468.27,168.07 470.17,44.47 472.07,141.85 473.97,165.26 475.87,70.69 477.77,76.31 479.66,23.87 481.56,23.87 483.46,44.47 485.36,31.93 487.26,77.25 489.16,23.87 491.06,25.75 492.96,77.25 494.86,25.75 496.76,63.2 498.66,23.87 500.56,47.28 502.46,27.62 504.36,29.49 506.25,25.75 508.15,95.04 510.05,21.06 511.95,44.47 513.85,23.87 515.75,173.69 517.65,25.75 519.55,50.09 521.45,23.87 523.35,22.94 525.25,65.07 527.15,106.27 529.05,23.87 530.94,19.19 532.84,61.33 534.74,22 536.64,33.24 538.54,82.86 540.44,44.47 542.34,71.63 544.24,22 546.14,25.75 548.04,74.44 549.94,26.68 551.84,173.69 553.74,29.49 555.64,73.5 557.53,149.35 559.43,89.42 561.33,92.23 563.23,46.35 565.13,23.87 567.03,30.43 568.93,173.69 570.83,174.63 572.73,173.69 574.63,20.13 576.53,25.75 578.43,175.56 580.33,25.75 582.22,44.47 584.12,27.62 586.02,21.06 587.92,63.2 589.82,26.68 591.72,73.5 593.62,162.45 595.52,22.94 597.42,29.49 599.32,22 601.22,71.63 603.12,22 605.02,123.13 606.92,22 608.81,169.01 610.71,30.43 612.61,85.67 614.51,132.49 616.41,157.77 618.31,164.33 620.21,75.37 622.11,22 624.01,65.07 625.91,22 627.81,117.51 629.71,43.54 631.61,36.05 633.51,22 635.4,166.2 637.3,57.58 639.2,20.13 641.1,76.31 643,22 644.9,22" fill="none" stroke="#9a2d78" stroke-width="1.25" stroke-linejoin="round"/>
<g fill="#9a2d78"><circle cx="388.5" cy="25.75" r="2.9"/><circle cx="390.4" cy="176.5" r="2.9"/><circle cx="392.3" cy="25.75" r="2.9"/><circle cx="394.2" cy="166.2" r="2.9"/><circle cx="396.1" cy="79.12" r="2.9"/><circle cx="398" cy="26.68" r="2.9"/><circle cx="399.9" cy="77.25" r="2.9"/><circle cx="401.79" cy="65.07" r="2.9"/><circle cx="403.69" cy="31.36" r="2.9"/><circle cx="405.59" cy="36.05" r="2.9"/><circle cx="407.49" cy="89.42" r="2.9"/><circle cx="409.39" cy="25.75" r="2.9"/><circle cx="411.29" cy="44.47" r="2.9"/><circle cx="413.19" cy="18.25" r="2.9"/><circle cx="415.09" cy="51.96" r="2.9"/><circle cx="416.99" cy="28.55" r="2.9"/><circle cx="418.89" cy="50.09" r="2.9"/><circle cx="420.79" cy="174.63" r="2.9"/><circle cx="422.69" cy="88.48" r="2.9"/><circle cx="424.59" cy="165.26" r="2.9"/><circle cx="426.49" cy="29.49" r="2.9"/><circle cx="428.38" cy="33.24" r="2.9"/><circle cx="430.28" cy="20.13" r="2.9"/><circle cx="432.18" cy="30.43" r="2.9"/><circle cx="434.08" cy="24.81" r="2.9"/><circle cx="435.98" cy="22" r="2.9"/><circle cx="437.88" cy="76.31" r="2.9"/><circle cx="439.78" cy="173.69" r="2.9"/><circle cx="441.68" cy="169.95" r="2.9"/><circle cx="443.58" cy="88.67" r="2.9"/><circle cx="445.48" cy="164.33" r="2.9"/><circle cx="447.38" cy="28.37" r="2.9"/><circle cx="449.28" cy="29.49" r="2.9"/><circle cx="451.18" cy="179.31" r="2.9"/><circle cx="453.07" cy="168.07" r="2.9"/><circle cx="454.97" cy="74.44" r="2.9"/><circle cx="456.87" cy="63.2" r="2.9"/><circle cx="458.77" cy="182.12" r="2.9"/><circle cx="460.67" cy="88.48" r="2.9"/><circle cx="462.57" cy="66.95" r="2.9"/><circle cx="464.47" cy="72.56" r="2.9"/><circle cx="466.37" cy="25.75" r="2.9"/><circle cx="468.27" cy="168.07" r="2.9"/><circle cx="470.17" cy="44.47" r="2.9"/><circle cx="472.07" cy="141.85" r="2.9"/><circle cx="473.97" cy="165.26" r="2.9"/><circle cx="475.87" cy="70.69" r="2.9"/><circle cx="477.77" cy="76.31" r="2.9"/><circle cx="479.66" cy="23.87" r="2.9"/><circle cx="481.56" cy="23.87" r="2.9"/><circle cx="483.46" cy="44.47" r="2.9"/><circle cx="485.36" cy="31.93" r="2.9"/><circle cx="487.26" cy="77.25" r="2.9"/><circle cx="489.16" cy="23.87" r="2.9"/><circle cx="491.06" cy="25.75" r="2.9"/><circle cx="492.96" cy="77.25" r="2.9"/><circle cx="494.86" cy="25.75" r="2.9"/><circle cx="496.76" cy="63.2" r="2.9"/><circle cx="498.66" cy="23.87" r="2.9"/><circle cx="500.56" cy="47.28" r="2.9"/><circle cx="502.46" cy="27.62" r="2.9"/><circle cx="504.36" cy="29.49" r="2.9"/><circle cx="506.25" cy="25.75" r="2.9"/><circle cx="508.15" cy="95.04" r="2.9"/><circle cx="510.05" cy="21.06" r="2.9"/><circle cx="511.95" cy="44.47" r="2.9"/><circle cx="513.85" cy="23.87" r="2.9"/><circle cx="515.75" cy="173.69" r="2.9"/><circle cx="517.65" cy="25.75" r="2.9"/><circle cx="519.55" cy="50.09" r="2.9"/><circle cx="521.45" cy="23.87" r="2.9"/><circle cx="523.35" cy="22.94" r="2.9"/><circle cx="525.25" cy="65.07" r="2.9"/><circle cx="527.15" cy="106.27" r="2.9"/><circle cx="529.05" cy="23.87" r="2.9"/><circle cx="530.94" cy="19.19" r="2.9"/><circle cx="532.84" cy="61.33" r="2.9"/><circle cx="534.74" cy="22" r="2.9"/><circle cx="536.64" cy="33.24" r="2.9"/><circle cx="538.54" cy="82.86" r="2.9"/><circle cx="540.44" cy="44.47" r="2.9"/><circle cx="542.34" cy="71.63" r="2.9"/><circle cx="544.24" cy="22" r="2.9"/><circle cx="546.14" cy="25.75" r="2.9"/><circle cx="548.04" cy="74.44" r="2.9"/><circle cx="549.94" cy="26.68" r="2.9"/><circle cx="551.84" cy="173.69" r="2.9"/><circle cx="553.74" cy="29.49" r="2.9"/><circle cx="555.64" cy="73.5" r="2.9"/><circle cx="557.53" cy="149.35" r="2.9"/><circle cx="559.43" cy="89.42" r="2.9"/><circle cx="561.33" cy="92.23" r="2.9"/><circle cx="563.23" cy="46.35" r="2.9"/><circle cx="565.13" cy="23.87" r="2.9"/><circle cx="567.03" cy="30.43" r="2.9"/><circle cx="568.93" cy="173.69" r="2.9"/><circle cx="570.83" cy="174.63" r="2.9"/><circle cx="572.73" cy="173.69" r="2.9"/><circle cx="574.63" cy="20.13" r="2.9"/><circle cx="576.53" cy="25.75" r="2.9"/><circle cx="578.43" cy="175.56" r="2.9"/><circle cx="580.33" cy="25.75" r="2.9"/><circle cx="582.22" cy="44.47" r="2.9"/><circle cx="584.12" cy="27.62" r="2.9"/><circle cx="586.02" cy="21.06" r="2.9"/><circle cx="587.92" cy="63.2" r="2.9"/><circle cx="589.82" cy="26.68" r="2.9"/><circle cx="591.72" cy="73.5" r="2.9"/><circle cx="593.62" cy="162.45" r="2.9"/><circle cx="595.52" cy="22.94" r="2.9"/><circle cx="597.42" cy="29.49" r="2.9"/><circle cx="599.32" cy="22" r="2.9"/><circle cx="601.22" cy="71.63" r="2.9"/><circle cx="603.12" cy="22" r="2.9"/><circle cx="605.02" cy="123.13" r="2.9"/><circle cx="606.92" cy="22" r="2.9"/><circle cx="608.81" cy="169.01" r="2.9"/><circle cx="610.71" cy="30.43" r="2.9"/><circle cx="612.61" cy="85.67" r="2.9"/><circle cx="614.51" cy="132.49" r="2.9"/><circle cx="616.41" cy="157.77" r="2.9"/><circle cx="618.31" cy="164.33" r="2.9"/><circle cx="620.21" cy="75.37" r="2.9"/><circle cx="622.11" cy="22" r="2.9"/><circle cx="624.01" cy="65.07" r="2.9"/><circle cx="625.91" cy="22" r="2.9"/><circle cx="627.81" cy="117.51" r="2.9"/><circle cx="629.71" cy="43.54" r="2.9"/><circle cx="631.61" cy="36.05" r="2.9"/><circle cx="633.51" cy="22" r="2.9"/><circle cx="635.4" cy="166.2" r="2.9"/><circle cx="637.3" cy="57.58" r="2.9"/><circle cx="639.2" cy="20.13" r="2.9"/><circle cx="641.1" cy="76.31" r="2.9"/><circle cx="643" cy="22" r="2.9"/><circle cx="644.9" cy="22" r="2.9"/></g>
</g>
<g stroke="#000" stroke-width="0.64">
<line x1="385.7" x2="388.5" y1="198.04" y2="198.04"/>
<line x1="385.7" x2="388.5" y1="160.58" y2="160.58"/>
<line x1="385.7" x2="388.5" y1="123.13" y2="123.13"/>
<line x1="385.7" x2="388.5" y1="85.67" y2="85.67"/>
<line x1="385.7" x2="388.5" y1="48.22" y2="48.22"/>
<line x1="385.7" x2="388.5" y1="10.76" y2="10.76"/>
<line x1="388.5" x2="388.5" y1="207.4" y2="210.2"/>
<line x1="426.49" x2="426.49" y1="207.4" y2="210.2"/>
<line x1="464.47" x2="464.47" y1="207.4" y2="210.2"/>
<line x1="502.46" x2="502.46" y1="207.4" y2="210.2"/>
<line x1="540.44" x2="540.44" y1="207.4" y2="210.2"/>
<line x1="578.43" x2="578.43" y1="207.4" y2="210.2"/>
<line x1="616.41" x2="616.41" y1="207.4" y2="210.2"/>
</g>
<g fill="#000">
<text x="382.9" y="201.54" text-anchor="end">0.0</text>
<text x="382.9" y="164.08" text-anchor="end">0.2</text>
<text x="382.9" y="126.63" text-anchor="end">0.4</text>
<text x="382.9" y="89.17" text-anchor="end">0.6</text>
<text x="382.9" y="51.72" text-anchor="end">0.8</text>
<text x="382.9" y="14.26" text-anchor="end">1.0</text>
<text x="388.5" y="219.9" text-anchor="middle">0</text>
<text x="426.49" y="219.9" text-anchor="middle">20</text>
<text x="464.47" y="219.9" text-anchor="middle">40</text>
<text x="502.46" y="219.9" text-anchor="middle">60</text>
<text x="540.44" y="219.9" text-anchor="middle">80</text>
<text x="578.43" y="219.9" text-anchor="middle">100</text>
<text x="616.41" y="219.9" text-anchor="middle">120</text>
<text x="517.65" y="231.6" text-anchor="middle">Data Samples</text>
<text transform="translate(364.5 103.6) rotate(-90)" text-anchor="middle">Target and Predictions</text>
</g>
<g id="leg2a">
<rect x="392.5" y="5.4" width="66.7" height="40.2" rx="1.6" fill="#fff" fill-opacity="0.8" stroke="#ccc" stroke-opacity="0.8" stroke-width="0.8"/>
<rect x="395.5" y="9.9" width="18" height="5.8" fill="#bdf2bd"/>
<text x="420.1" y="15.7">Test Set</text>
<line x1="395.5" x2="413.5" y1="25.6" y2="25.6" stroke="#000" stroke-width="0.9"/>
<use href="#st" x="404.5" y="25.6"/>
<text x="420.1" y="28.5">Actual</text>
<line x1="395.5" x2="413.5" y1="38.4" y2="38.4" stroke="#9a2d78" stroke-width="1.5"/>
<circle cx="404.5" cy="38.4" r="2.9" fill="#9a2d78"/>
<text x="420.1" y="41.3">SSA-MLP</text>
</g>
<polyline clip-path="url(#c1)" points="388.5,110.5 390.4,94.3 392.3,110.5 394.2,78.1 396.1,126.7 398,115.9 399.9,105.1 401.79,121.3 403.69,106.9 405.59,112.3 407.49,106.9 409.39,117.7 411.29,112.3 413.19,128.5 415.09,124.9 416.99,119.5 418.89,132.1 420.79,112.3 422.69,124.9 424.59,103.3 426.49,110.5 428.38,121.3 430.28,121.3 432.18,119.5 434.08,115.9 435.98,121.3 437.88,132.1 439.78,101.5 441.68,135.7 443.58,112.66 445.48,90.7 447.38,112.66 449.28,124.9 451.18,103.3 453.07,114.1 454.97,133.9 456.87,115.9 458.77,110.5 460.67,99.7 462.57,123.1 464.47,123.1 466.37,121.3 468.27,123.1 470.17,121.3 472.07,99.7 473.97,96.1 475.87,124.9 477.77,101.5 479.66,132.1 481.56,114.1 483.46,133.9 485.36,116.62 487.26,103.3 489.16,124.9 491.06,117.7 492.96,108.7 494.86,124.9 496.76,130.3 498.66,124.9 500.56,130.3 502.46,114.1 504.36,121.3 506.25,124.9 508.15,103.3 510.05,126.7 511.95,117.7 513.85,115.9 515.75,96.1 517.65,126.7 519.55,117.7 521.45,124.9 523.35,114.1 525.25,126.7 527.15,121.3 529.05,117.7 530.94,124.9 532.84,130.3 534.74,115.9 536.64,124.9 538.54,126.7 540.44,119.5 542.34,128.5 544.24,119.5 546.14,130.3 548.04,106.9 549.94,121.3 551.84,124.9 553.74,124.9 555.64,132.1 557.53,90.7 559.43,124.9 561.33,124.9 563.23,112.3 565.13,114.1 567.03,124.9 568.93,133.9 570.83,90.7 572.73,117.7 574.63,130.3 576.53,124.9 578.43,92.5 580.33,121.3 582.22,124.9 584.12,124.9 586.02,119.5 587.92,117.7 589.82,108.7 591.72,126.7 593.62,74.5 595.52,112.3 597.42,128.5 599.32,117.7 601.22,130.3 603.12,114.1 605.02,126.7 606.92,114.1 608.81,128.5 610.71,124.9 612.61,124.9 614.51,114.1 616.41,74.5 618.31,76.3 620.21,103.3 622.11,110.5 624.01,133.9 625.91,128.5 627.81,132.1 629.71,112.3 631.61,126.7 633.51,115.9 635.4,110.5 637.3,128.5 639.2,132.1 641.1,114.1 643,123.1 644.9,126.7" fill="none" stroke="#ee0f68" stroke-width="1.3" stroke-linejoin="round"/>
<g stroke="#f61212" stroke-width="0.64">
<line x1="646.8" x2="649.6" y1="171.7" y2="171.7"/>
<line x1="646.8" x2="649.6" y1="135.7" y2="135.7"/>
<line x1="646.8" x2="649.6" y1="99.7" y2="99.7"/>
<line x1="646.8" x2="649.6" y1="63.7" y2="63.7"/>
<line x1="646.8" x2="649.6" y1="27.7" y2="27.7"/>
</g>
<g fill="#f61212">
<text x="652.9" y="175.1">−0.1</text>
<text x="652.9" y="139.1">0.0</text>
<text x="652.9" y="103.1">0.1</text>
<text x="652.9" y="67.1">0.2</text>
<text x="652.9" y="31.1">0.3</text>
<text transform="translate(683.9 105.2) rotate(-90)" text-anchor="middle">Error</text>
</g>
<g id="leg2b">
<rect x="457.07" y="5.4" width="51" height="13.8" rx="1.6" fill="#fff" fill-opacity="0.8" stroke="#ccc" stroke-opacity="0.8" stroke-width="0.8"/>
<line x1="460.07" x2="478.07" y1="12.8" y2="12.8" stroke="#ee0f68" stroke-width="1.6"/>
<text x="484.68" y="15.7">Error</text>
</g>
<rect x="388.5" y="1.4" width="258.3" height="206" fill="none" stroke="#000" stroke-width="0.64"/>
</g>
<g id="panel3">
<clipPath id="c2"><rect x="32.5" y="259.4" width="258.3" height="206"/></clipPath>
<rect x="236.67" y="259.4" width="54.13" height="206" fill="#bdf2bd"/>
<g clip-path="url(#c2)">
<polyline points="32.5,270.64 34.4,456.04 36.3,270.64 38.2,394.24 40.1,341.8 42,274.38 43.9,319.33 45.79,330.56 47.69,274.38 49.59,281.87 51.49,362.4 53.39,274.38 55.29,314.65 57.19,272.51 59.09,304.35 60.99,278.13 62.89,306.22 64.79,444.8 66.69,352.1 68.59,406.41 70.49,274.38 72.38,283.75 74.28,270.64 76.18,280 78.08,272.51 79.98,287.49 81.88,336.18 83.78,449.48 85.68,427.95 87.58,358.65 89.48,398.92 91.38,274.38 93.28,281.87 95.18,454.16 97.08,414.84 98.97,333.37 100.87,331.5 102.77,453.23 104.67,365.21 106.57,318.39 108.47,324.01 110.37,291.24 112.27,419.52 114.17,309.96 116.07,381.13 117.97,402.66 119.87,323.07 121.77,316.52 123.66,283.75 125.56,270.64 127.46,301.54 129.36,280 131.26,318.39 133.16,287.49 135.06,274.38 136.96,321.2 138.86,278.13 140.76,324.01 142.66,276.25 144.56,302.47 146.46,274.38 148.36,294.98 150.25,278.13 152.15,369.89 154.05,283.75 155.95,311.84 157.85,292.17 159.75,452.29 161.65,279.06 163.55,317.45 165.45,276.25 167.35,292.17 169.25,327.75 171.15,371.76 173.05,291.24 174.94,282.81 176.84,322.14 178.74,269.7 180.64,296.85 182.54,345.55 184.44,310.9 186.34,325.88 188.24,271.57 190.14,280.94 192.04,317.45 193.94,292.17 195.84,437.31 197.74,293.11 199.64,329.63 201.53,383.94 203.43,341.8 205.33,355.85 207.23,316.52 209.13,270.64 211.03,294.05 212.93,432.63 214.83,456.04 216.73,441.05 218.63,280.94 220.53,278.13 222.43,456.04 224.33,291.24 226.23,308.09 228.12,291.24 230.02,270.64 231.92,330.56 233.82,270.64 235.72,326.82 237.62,388.62 239.52,268.76 241.42,291.24 243.32,270.64 245.22,326.82 247.12,268.76 249.02,376.45 250.92,268.76 252.81,423.26 254.71,294.05 256.61,349.29 258.51,379.25 260.41,383.94 262.31,391.43 264.21,316.52 266.11,293.11 268.01,324.01 269.91,276.25 271.81,373.64 273.71,313.71 275.61,298.73 277.51,269.7 279.4,411.09 281.3,319.33 283.2,280 285.1,323.07 287,286.55 288.9,275.32" fill="none" stroke="#000" stroke-width="0.9" stroke-linejoin="round"/>
<use href="#st" x="32.5" y="270.64"/><use href="#st" x="34.4" y="456.04"/><use href="#st" x="36.3" y="270.64"/><use href="#st" x="38.2" y="394.24"/><use href="#st" x="40.1" y="341.8"/><use href="#st" x="42" y="274.38"/><use href="#st" x="43.9" y="319.33"/><use href="#st" x="45.79" y="330.56"/><use href="#st" x="47.69" y="274.38"/><use href="#st" x="49.59" y="281.87"/><use href="#st" x="51.49" y="362.4"/><use href="#st" x="53.39" y="274.38"/><use href="#st" x="55.29" y="314.65"/><use href="#st" x="57.19" y="272.51"/><use href="#st" x="59.09" y="304.35"/><use href="#st" x="60.99" y="278.13"/><use href="#st" x="62.89" y="306.22"/><use href="#st" x="64.79" y="444.8"/><use href="#st" x="66.69" y="352.1"/><use href="#st" x="68.59" y="406.41"/><use href="#st" x="70.49" y="274.38"/><use href="#st" x="72.38" y="283.75"/><use href="#st" x="74.28" y="270.64"/><use href="#st" x="76.18" y="280"/><use href="#st" x="78.08" y="272.51"/><use href="#st" x="79.98" y="287.49"/><use href="#st" x="81.88" y="336.18"/><use href="#st" x="83.78" y="449.48"/><use href="#st" x="85.68" y="427.95"/><use href="#st" x="87.58" y="358.65"/><use href="#st" x="89.48" y="398.92"/><use href="#st" x="91.38" y="274.38"/><use href="#st" x="93.28" y="281.87"/><use href="#st" x="95.18" y="454.16"/><use href="#st" x="97.08" y="414.84"/><use href="#st" x="98.97" y="333.37"/><use href="#st" x="100.87" y="331.5"/><use href="#st" x="102.77" y="453.23"/><use href="#st" x="104.67" y="365.21"/><use href="#st" x="106.57" y="318.39"/><use href="#st" x="108.47" y="324.01"/><use href="#st" x="110.37" y="291.24"/><use href="#st" x="112.27" y="419.52"/><use href="#st" x="114.17" y="309.96"/><use href="#st" x="116.07" y="381.13"/><use href="#st" x="117.97" y="402.66"/><use href="#st" x="119.87" y="323.07"/><use href="#st" x="121.77" y="316.52"/><use href="#st" x="123.66" y="283.75"/><use href="#st" x="125.56" y="270.64"/><use href="#st" x="127.46" y="301.54"/><use href="#st" x="129.36" y="280"/><use href="#st" x="131.26" y="318.39"/><use href="#st" x="133.16" y="287.49"/><use href="#st" x="135.06" y="274.38"/><use href="#st" x="136.96" y="321.2"/><use href="#st" x="138.86" y="278.13"/><use href="#st" x="140.76" y="324.01"/><use href="#st" x="142.66" y="276.25"/><use href="#st" x="144.56" y="302.47"/><use href="#st" x="146.46" y="274.38"/><use href="#st" x="148.36" y="294.98"/><use href="#st" x="150.25" y="278.13"/><use href="#st" x="152.15" y="369.89"/><use href="#st" x="154.05" y="283.75"/><use href="#st" x="155.95" y="311.84"/><use href="#st" x="157.85" y="292.17"/><use href="#st" x="159.75" y="452.29"/><use href="#st" x="161.65" y="279.06"/><use href="#st" x="163.55" y="317.45"/><use href="#st" x="165.45" y="276.25"/><use href="#st" x="167.35" y="292.17"/><use href="#st" x="169.25" y="327.75"/><use href="#st" x="171.15" y="371.76"/><use href="#st" x="173.05" y="291.24"/><use href="#st" x="174.94" y="282.81"/><use href="#st" x="176.84" y="322.14"/><use href="#st" x="178.74" y="269.7"/><use href="#st" x="180.64" y="296.85"/><use href="#st" x="182.54" y="345.55"/><use href="#st" x="184.44" y="310.9"/><use href="#st" x="186.34" y="325.88"/><use href="#st" x="188.24" y="271.57"/><use href="#st" x="190.14" y="280.94"/><use href="#st" x="192.04" y="317.45"/><use href="#st" x="193.94" y="292.17"/><use href="#st" x="195.84" y="437.31"/><use href="#st" x="197.74" y="293.11"/><use href="#st" x="199.64" y="329.63"/><use href="#st" x="201.53" y="383.94"/><use href="#st" x="203.43" y="341.8"/><use href="#st" x="205.33" y="355.85"/><use href="#st" x="207.23" y="316.52"/><use href="#st" x="209.13" y="270.64"/><use href="#st" x="211.03" y="294.05"/><use href="#st" x="212.93" y="432.63"/><use href="#st" x="214.83" y="456.04"/><use href="#st" x="216.73" y="441.05"/><use href="#st" x="218.63" y="280.94"/><use href="#st" x="220.53" y="278.13"/><use href="#st" x="222.43" y="456.04"/><use href="#st" x="224.33" y="291.24"/><use href="#st" x="226.23" y="308.09"/><use href="#st" x="228.12" y="291.24"/><use href="#st" x="230.02" y="270.64"/><use href="#st" x="231.92" y="330.56"/><use href="#st" x="233.82" y="270.64"/><use href="#st" x="235.72" y="326.82"/><use href="#st" x="237.62" y="388.62"/><use href="#st" x="239.52" y="268.76"/><use href="#st" x="241.42" y="291.24"/><use href="#st" x="243.32" y="270.64"/><use href="#st" x="245.22" y="326.82"/><use href="#st" x="247.12" y="268.76"/><use href="#st" x="249.02" y="376.45"/><use href="#st" x="250.92" y="268.76"/><use href="#st" x="252.81" y="423.26"/><use href="#st" x="254.71" y="294.05"/><use href="#st" x="256.61" y="349.29"/><use href="#st" x="258.51" y="379.25"/><use href="#st" x="260.41" y="383.94"/><use href="#st" x="262.31" y="391.43"/><use href="#st" x="264.21" y="316.52"/><use href="#st" x="266.11" y="293.11"/><use href="#st" x="268.01" y="324.01"/><use href="#st" x="269.91" y="276.25"/><use href="#st" x="271.81" y="373.64"/><use href="#st" x="273.71" y="313.71"/><use href="#st" x="275.61" y="298.73"/><use href="#st" x="277.51" y="269.7"/><use href="#st" x="279.4" y="411.09"/><use href="#st" x="281.3" y="319.33"/><use href="#st" x="283.2" y="280"/><use href="#st" x="285.1" y="323.07"/><use href="#st" x="287" y="286.55"/><use href="#st" x="288.9" y="275.32"/>
<polyline points="32.5,270.64 34.4,456.04 36.3,270.07 38.2,403.6 40.1,340.86 42,289.36 43.9,326.82 45.79,333.37 47.69,273.45 49.59,280 51.49,377.38 53.39,272.51 55.29,306.22 57.19,287.49 59.09,292.17 60.99,276.25 62.89,294.98 64.79,435.44 66.69,347.42 68.59,433.56 70.49,272.51 72.38,283.75 74.28,285.62 76.18,293.11 78.08,284.68 79.98,285.62 81.88,341.8 83.78,456.04 85.68,425.14 87.58,358.65 89.48,412.96 91.38,274.38 93.28,281.87 95.18,454.16 97.08,427.01 98.97,338.05 100.87,329.63 102.77,441.99 104.67,381.13 106.57,319.33 108.47,329.63 110.37,292.17 112.27,426.07 114.17,294.98 116.07,401.73 117.97,423.26 119.87,326.82 121.77,325.88 123.66,269.7 125.56,284.68 127.46,294.05 129.36,278.13 131.26,326.82 133.16,270.64 135.06,283.75 136.96,326.82 138.86,280 140.76,328.69 142.66,274.38 144.56,293.11 146.46,289.36 148.36,294.05 150.25,278.13 152.15,375.51 154.05,268.76 155.95,301.54 157.85,281.87 159.75,456.04 161.65,272.51 163.55,305.28 165.45,273.45 167.35,282.81 169.25,326.82 171.15,365.21 173.05,276.25 174.94,268.76 176.84,322.14 178.74,268.76 180.64,294.98 182.54,341.8 184.44,298.73 186.34,333.37 188.24,286.55 190.14,273.45 192.04,320.26 193.94,294.05 195.84,420.45 197.74,293.11 199.64,338.05 201.53,402.66 203.43,345.55 205.33,350.23 207.23,303.41 209.13,268.76 211.03,294.05 212.93,413.9 214.83,456.04 216.73,428.88 218.63,268.76 220.53,274.38 222.43,456.04 224.33,280 226.23,291.24 228.12,283.75 230.02,268.76 231.92,331.5 233.82,271.57 235.72,331.5 237.62,400.79 239.52,283.75 241.42,291.24 243.32,268.76 245.22,333.37 247.12,268.76 249.02,394.24 250.92,283.75 252.81,425.14 254.71,294.98 256.61,342.74 258.51,398.92 260.41,399.85 262.31,401.73 264.21,323.07 266.11,282.81 268.01,332.44 269.91,282.81 271.81,365.21 273.71,302.47 275.61,293.11 277.51,268.76 279.4,439.18 281.3,315.58 283.2,268.76 285.1,326.82 287,268.76 288.9,283.75" fill="none" stroke="#807515" stroke-width="1.25" stroke-linejoin="round"/>
<g fill="#807515"><circle cx="32.5" cy="270.64" r="2.9"/><circle cx="34.4" cy="456.04" r="2.9"/><circle cx="36.3" cy="270.07" r="2.9"/><circle cx="38.2" cy="403.6" r="2.9"/><circle cx="40.1" cy="340.86" r="2.9"/><circle cx="42" cy="289.36" r="2.9"/><circle cx="43.9" cy="326.82" r="2.9"/><circle cx="45.79" cy="333.37" r="2.9"/><circle cx="47.69" cy="273.45" r="2.9"/><circle cx="49.59" cy="280" r="2.9"/><circle cx="51.49" cy="377.38" r="2.9"/><circle cx="53.39" cy="272.51" r="2.9"/><circle cx="55.29" cy="306.22" r="2.9"/><circle cx="57.19" cy="287.49" r="2.9"/><circle cx="59.09" cy="292.17" r="2.9"/><circle cx="60.99" cy="276.25" r="2.9"/><circle cx="62.89" cy="294.98" r="2.9"/><circle cx="64.79" cy="435.44" r="2.9"/><circle cx="66.69" cy="347.42" r="2.9"/><circle cx="68.59" cy="433.56" r="2.9"/><circle cx="70.49" cy="272.51" r="2.9"/><circle cx="72.38" cy="283.75" r="2.9"/><circle cx="74.28" cy="285.62" r="2.9"/><circle cx="76.18" cy="293.11" r="2.9"/><circle cx="78.08" cy="284.68" r="2.9"/><circle cx="79.98" cy="285.62" r="2.9"/><circle cx="81.88" cy="341.8" r="2.9"/><circle cx="83.78" cy="456.04" r="2.9"/><circle cx="85.68" cy="425.14" r="2.9"/><circle cx="87.58" cy="358.65" r="2.9"/><circle cx="89.48" cy="412.96" r="2.9"/><circle cx="91.38" cy="274.38" r="2.9"/><circle cx="93.28" cy="281.87" r="2.9"/><circle cx="95.18" cy="454.16" r="2.9"/><circle cx="97.08" cy="427.01" r="2.9"/><circle cx="98.97" cy="338.05" r="2.9"/><circle cx="100.87" cy="329.63" r="2.9"/><circle cx="102.77" cy="441.99" r="2.9"/><circle cx="104.67" cy="381.13" r="2.9"/><circle cx="106.57" cy="319.33" r="2.9"/><circle cx="108.47" cy="329.63" r="2.9"/><circle cx="110.37" cy="292.17" r="2.9"/><circle cx="112.27" cy="426.07" r="2.9"/><circle cx="114.17" cy="294.98" r="2.9"/><circle cx="116.07" cy="401.73" r="2.9"/><circle cx="117.97" cy="423.26" r="2.9"/><circle cx="119.87" cy="326.82" r="2.9"/><circle cx="121.77" cy="325.88" r="2.9"/><circle cx="123.66" cy="269.7" r="2.9"/><circle cx="125.56" cy="284.68" r="2.9"/><circle cx="127.46" cy="294.05" r="2.9"/><circle cx="129.36" cy="278.13" r="2.9"/><circle cx="131.26" cy="326.82" r="2.9"/><circle cx="133.16" cy="270.64" r="2.9"/><circle cx="135.06" cy="283.75" r="2.9"/><circle cx="136.96" cy="326.82" r="2.9"/><circle cx="138.86" cy="280" r="2.9"/><circle cx="140.76" cy="328.69" r="2.9"/><circle cx="142.66" cy="274.38" r="2.9"/><circle cx="144.56" cy="293.11" r="2.9"/><circle cx="146.46" cy="289.36" r="2.9"/><circle cx="148.36" cy="294.05" r="2.9"/><circle cx="150.25" cy="278.13" r="2.9"/><circle cx="152.15" cy="375.51" r="2.9"/><circle cx="154.05" cy="268.76" r="2.9"/><circle cx="155.95" cy="301.54" r="2.9"/><circle cx="157.85" cy="281.87" r="2.9"/><circle cx="159.75" cy="456.04" r="2.9"/><circle cx="161.65" cy="272.51" r="2.9"/><circle cx="163.55" cy="305.28" r="2.9"/><circle cx="165.45" cy="273.45" r="2.9"/><circle cx="167.35" cy="282.81" r="2.9"/><circle cx="169.25" cy="326.82" r="2.9"/><circle cx="171.15" cy="365.21" r="2.9"/><circle cx="173.05" cy="276.25" r="2.9"/><circle cx="174.94" cy="268.76" r="2.9"/><circle cx="176.84" cy="322.14" r="2.9"/><circle cx="178.74" cy="268.76" r="2.9"/><circle cx="180.64" cy="294.98" r="2.9"/><circle cx="182.54" cy="341.8" r="2.9"/><circle cx="184.44" cy="298.73" r="2.9"/><circle cx="186.34" cy="333.37" r="2.9"/><circle cx="188.24" cy="286.55" r="2.9"/><circle cx="190.14" cy="273.45" r="2.9"/><circle cx="192.04" cy="320.26" r="2.9"/><circle cx="193.94" cy="294.05" r="2.9"/><circle cx="195.84" cy="420.45" r="2.9"/><circle cx="197.74" cy="293.11" r="2.9"/><circle cx="199.64" cy="338.05" r="2.9"/><circle cx="201.53" cy="402.66" r="2.9"/><circle cx="203.43" cy="345.55" r="2.9"/><circle cx="205.33" cy="350.23" r="2.9"/><circle cx="207.23" cy="303.41" r="2.9"/><circle cx="209.13" cy="268.76" r="2.9"/><circle cx="211.03" cy="294.05" r="2.9"/><circle cx="212.93" cy="413.9" r="2.9"/><circle cx="214.83" cy="456.04" r="2.9"/><circle cx="216.73" cy="428.88" r="2.9"/><circle cx="218.63" cy="268.76" r="2.9"/><circle cx="220.53" cy="274.38" r="2.9"/><circle cx="222.43" cy="456.04" r="2.9"/><circle cx="224.33" cy="280" r="2.9"/><circle cx="226.23" cy="291.24" r="2.9"/><circle cx="228.12" cy="283.75" r="2.9"/><circle cx="230.02" cy="268.76" r="2.9"/><circle cx="231.92" cy="331.5" r="2.9"/><circle cx="233.82" cy="271.57" r="2.9"/><circle cx="235.72" cy="331.5" r="2.9"/><circle cx="237.62" cy="400.79" r="2.9"/><circle cx="239.52" cy="283.75" r="2.9"/><circle cx="241.42" cy="291.24" r="2.9"/><circle cx="243.32" cy="268.76" r="2.9"/><circle cx="245.22" cy="333.37" r="2.9"/><circle cx="247.12" cy="268.76" r="2.9"/><circle cx="249.02" cy="394.24" r="2.9"/><circle cx="250.92" cy="283.75" r="2.9"/><circle cx="252.81" cy="425.14" r="2.9"/><circle cx="254.71" cy="294.98" r="2.9"/><circle cx="256.61" cy="342.74" r="2.9"/><circle cx="258.51" cy="398.92" r="2.9"/><circle cx="260.41" cy="399.85" r="2.9"/><circle cx="262.31" cy="401.73" r="2.9"/><circle cx="264.21" cy="323.07" r="2.9"/><circle cx="266.11" cy="282.81" r="2.9"/><circle cx="268.01" cy="332.44" r="2.9"/><circle cx="269.91" cy="282.81" r="2.9"/><circle cx="271.81" cy="365.21" r="2.9"/><circle cx="273.71" cy="302.47" r="2.9"/><circle cx="275.61" cy="293.11" r="2.9"/><circle cx="277.51" cy="268.76" r="2.9"/><circle cx="279.4" cy="439.18" r="2.9"/><circle cx="281.3" cy="315.58" r="2.9"/><circle cx="283.2" cy="268.76" r="2.9"/><circle cx="285.1" cy="326.82" r="2.9"/><circle cx="287" cy="268.76" r="2.9"/><circle cx="288.9" cy="283.75" r="2.9"/></g>
</g>
<g stroke="#000" stroke-width="0.64">
<line x1="29.7" x2="32.5" y1="456.04" y2="456.04"/>
<line x1="29.7" x2="32.5" y1="418.58" y2="418.58"/>
<line x1="29.7" x2="32.5" y1="381.13" y2="381.13"/>
<line x1="29.7" x2="32.5" y1="343.67" y2="343.67"/>
<line x1="29.7" x2="32.5" y1="306.22" y2="306.22"/>
<line x1="29.7" x2="32.5" y1="268.76" y2="268.76"/>
<line x1="32.5" x2="32.5" y1="465.4" y2="468.2"/>
<line x1="70.49" x2="70.49" y1="465.4" y2="468.2"/>
<line x1="108.47" x2="108.47" y1="465.4" y2="468.2"/>
<line x1="146.46" x2="146.46" y1="465.4" y2="468.2"/>
<line x1="184.44" x2="184.44" y1="465.4" y2="468.2"/>
<line x1="222.43" x2="222.43" y1="465.4" y2="468.2"/>
<line x1="260.41" x2="260.41" y1="465.4" y2="468.2"/>
</g>
<g fill="#000">
<text x="26.9" y="459.54" text-anchor="end">0.0</text>
<text x="26.9" y="422.08" text-anchor="end">0.2</text>
<text x="26.9" y="384.63" text-anchor="end">0.4</text>
<text x="26.9" y="347.17" text-anchor="end">0.6</text>
<text x="26.9" y="309.72" text-anchor="end">0.8</text>
<text x="26.9" y="272.26" text-anchor="end">1.0</text>
<text x="32.5" y="477.9" text-anchor="middle">0</text>
<text x="70.49" y="477.9" text-anchor="middle">20</text>
<text x="108.47" y="477.9" text-anchor="middle">40</text>
<text x="146.46" y="477.9" text-anchor="middle">60</text>
<text x="184.44" y="477.9" text-anchor="middle">80</text>
<text x="222.43" y="477.9" text-anchor="middle">100</text>
<text x="260.41" y="477.9" text-anchor="middle">120</text>
<text x="161.65" y="489.6" text-anchor="middle">Data Samples</text>
<text transform="translate(8.5 361.6) rotate(-90)" text-anchor="middle">Target and Predictions</text>
</g>
<g id="leg3a">
<rect x="36.5" y="263.4" width="67.6" height="40.2" rx="1.6" fill="#fff" fill-opacity="0.8" stroke="#ccc" stroke-opacity="0.8" stroke-width="0.8"/>
<rect x="39.5" y="267.9" width="18" height="5.8" fill="#bdf2bd"/>
<text x="64.1" y="273.7">Test Set</text>
<line x1="39.5" x2="57.5" y1="283.6" y2="283.6" stroke="#000" stroke-width="0.9"/>
<use href="#st" x="48.5" y="283.6"/>
<text x="64.1" y="286.5">Actual</text>
<line x1="39.5" x2="57.5" y1="296.4" y2="296.4" stroke="#807515" stroke-width="1.5"/>
<circle cx="48.5" cy="296.4" r="2.9" fill="#807515"/>
<text x="64.1" y="299.3">TSO-MLP</text>
</g>
<polyline clip-path="url(#c2)" points="32.5,390.8 34.4,390.8 36.3,389.68 38.2,372.05 40.1,388.93 42,360.8 43.9,375.8 45.79,385.18 47.69,388.93 49.59,387.05 51.49,360.8 53.39,387.05 55.29,373.93 57.19,360.8 59.09,366.43 60.99,387.05 62.89,368.3 64.79,372.05 66.69,381.43 68.59,336.43 70.49,387.05 72.38,390.8 74.28,360.8 76.18,364.55 78.08,366.43 79.98,387.05 81.88,379.55 83.78,377.68 85.68,385.18 87.58,390.8 89.48,362.68 91.38,390.8 93.28,390.8 95.18,390.8 97.08,366.43 98.97,381.43 100.87,387.05 102.77,368.3 104.67,358.93 106.57,388.93 108.47,379.55 110.37,388.93 112.27,377.68 114.17,360.8 116.07,349.55 117.97,349.55 119.87,383.3 121.77,372.05 123.66,362.68 125.56,362.68 127.46,375.8 129.36,387.05 131.26,373.93 133.16,357.05 135.06,372.05 136.96,379.55 138.86,387.05 140.76,381.43 142.66,387.05 144.56,372.05 146.46,360.8 148.36,388.93 150.25,390.8 152.15,379.55 154.05,360.8 155.95,370.18 157.85,370.18 159.75,383.3 161.65,377.68 163.55,366.43 165.45,385.18 167.35,372.05 169.25,388.93 171.15,377.68 173.05,360.8 174.94,362.68 176.84,390.8 178.74,388.93 180.64,387.05 182.54,383.3 184.44,366.43 186.34,375.8 188.24,360.8 190.14,375.8 192.04,385.18 193.94,387.05 195.84,357.05 197.74,390.8 199.64,373.93 201.53,353.3 203.43,383.3 205.33,379.55 207.23,364.55 209.13,387.05 211.03,390.8 212.93,353.3 214.83,390.8 216.73,366.43 218.63,366.43 220.53,383.3 222.43,390.8 224.33,368.3 226.23,357.05 228.12,375.8 230.02,387.05 231.92,388.93 233.82,388.93 235.72,381.43 237.62,366.43 239.52,360.8 241.42,390.8 243.32,387.05 245.22,377.68 247.12,390.8 249.02,355.18 250.92,360.8 252.81,387.05 254.71,388.93 256.61,377.68 258.51,351.43 260.41,358.93 262.31,370.18 264.21,377.68 266.11,370.18 268.01,373.93 269.91,377.68 271.81,373.93 273.71,368.3 275.61,379.55 277.51,388.93 279.4,334.55 281.3,383.3 283.2,368.3 285.1,383.3 287,355.18 288.9,373.93" fill="none" stroke="#ee0f68" stroke-width="1.3" stroke-linejoin="round"/>
<g stroke="#f61212" stroke-width="0.64">
<line x1="290.8" x2="293.6" y1="428.3" y2="428.3"/>
<line x1="290.8" x2="293.6" y1="390.8" y2="390.8"/>
<line x1="290.8" x2="293.6" y1="353.3" y2="353.3"/>
<line x1="290.8" x2="293.6" y1="315.8" y2="315.8"/>
<line x1="290.8" x2="293.6" y1="278.3" y2="278.3"/>
</g>
<g fill="#f61212">
<text x="296.9" y="431.7">−0.1</text>
<text x="296.9" y="394.2">0.0</text>
<text x="296.9" y="356.7">0.1</text>
<text x="296.9" y="319.2">0.2</text>
<text x="296.9" y="281.7">0.3</text>
<text transform="translate(327.9 363.2) rotate(-90)" text-anchor="middle">Error</text>
</g>
<g id="leg3b">
<rect x="101.08" y="263.4" width="51" height="13.8" rx="1.6" fill="#fff" fill-opacity="0.8" stroke="#ccc" stroke-opacity="0.8" stroke-width="0.8"/>
<line x1="104.08" x2="122.08" y1="270.8" y2="270.8" stroke="#ee0f68" stroke-width="1.6"/>
<text x="128.68" y="273.7">Error</text>
</g>
<rect x="32.5" y="259.4" width="258.3" height="206" fill="none" stroke="#000" stroke-width="0.64"/>
</g>
<g id="panel4">
<clipPath id="c3"><rect x="385.9" y="259.4" width="258.1" height="206.1"/></clipPath>
<rect x="589.91" y="259.4" width="54.09" height="206.1" fill="#bdf2bd"/>
<g clip-path="url(#c3)">
<polyline points="385.9,371.82 387.8,394.3 389.7,287.5 391.59,289.94 393.49,270.08 395.39,449.57 397.29,437.4 399.18,289.94 401.08,424.28 402.98,414.91 404.88,269.71 406.78,290.31 408.67,376.5 410.57,272.52 412.47,277.2 414.37,286.57 416.26,295 418.16,315.61 420.06,452.38 421.96,319.36 423.86,272.52 425.75,290.69 427.65,324.04 429.55,441.14 431.45,418.66 433.34,295.94 435.24,269.71 437.14,365.26 439.04,300.99 440.94,272.52 442.83,433.65 444.73,316.92 446.63,456.13 448.53,274.39 450.42,288.25 452.32,341.84 454.22,330.6 456.12,311.86 458.02,349.33 459.91,270.64 461.81,319.36 463.71,274.01 465.61,271.02 467.51,330.6 469.4,284.69 471.3,308.11 473.2,308.11 475.1,276.26 476.99,291.25 478.89,300.62 480.79,290.31 482.69,322.17 484.59,313.74 486.48,386.81 488.38,384.93 490.28,298.75 492.18,315.61 494.07,324.04 495.97,272.52 497.87,294.06 499.77,407.42 501.67,270.64 503.56,289.38 505.46,295 507.36,271.58 509.26,374.44 511.15,283.38 513.05,358.7 514.95,319.36 516.85,324.98 518.75,335.28 520.64,362.45 522.54,270.64 524.44,270.64 526.34,279.07 528.23,315.61 530.13,444.89 532.03,368.82 533.93,318.42 535.83,314.67 537.72,326.85 539.62,279.07 541.52,270.64 543.42,304.37 545.31,268.77 547.21,390.55 549.11,271.58 551.01,453.32 552.91,456.13 554.8,326.85 556.7,281.88 558.6,345.59 560.5,323.1 562.39,271.58 564.29,351.21 566.19,270.64 568.09,325.91 569.99,270.64 571.88,330.6 573.78,291.25 575.68,276.26 577.58,278.14 579.48,324.98 581.37,317.48 583.27,291.25 585.17,284.13 587.07,269.71 588.96,268.77 590.86,280.01 592.76,453.32 594.66,306.24 596.56,323.1 598.45,292.38 600.35,398.99 602.25,428.03 604.15,456.13 606.04,378.38 607.94,295.94 609.84,270.64 611.74,311.86 613.64,269.71 615.53,269.71 617.43,381.19 619.33,317.48 621.23,410.23 623.12,273.83 625.02,291.25 626.92,384 628.82,324.04 630.72,332.47 632.61,356.83 634.51,271.58 636.41,454.26 638.31,402.73 640.2,292.19 642.1,354.02" fill="none" stroke="#000" stroke-width="0.9" stroke-linejoin="round"/>
<use href="#st" x="385.9" y="371.82"/><use href="#st" x="387.8" y="394.3"/><use href="#st" x="389.7" y="287.5"/><use href="#st" x="391.59" y="289.94"/><use href="#st" x="393.49" y="270.08"/><use href="#st" x="395.39" y="449.57"/><use href="#st" x="397.29" y="437.4"/><use href="#st" x="399.18" y="289.94"/><use href="#st" x="401.08" y="424.28"/><use href="#st" x="402.98" y="414.91"/><use href="#st" x="404.88" y="269.71"/><use href="#st" x="406.78" y="290.31"/><use href="#st" x="408.67" y="376.5"/><use href="#st" x="410.57" y="272.52"/><use href="#st" x="412.47" y="277.2"/><use href="#st" x="414.37" y="286.57"/><use href="#st" x="416.26" y="295"/><use href="#st" x="418.16" y="315.61"/><use href="#st" x="420.06" y="452.38"/><use href="#st" x="421.96" y="319.36"/><use href="#st" x="423.86" y="272.52"/><use href="#st" x="425.75" y="290.69"/><use href="#st" x="427.65" y="324.04"/><use href="#st" x="429.55" y="441.14"/><use href="#st" x="431.45" y="418.66"/><use href="#st" x="433.34" y="295.94"/><use href="#st" x="435.24" y="269.71"/><use href="#st" x="437.14" y="365.26"/><use href="#st" x="439.04" y="300.99"/><use href="#st" x="440.94" y="272.52"/><use href="#st" x="442.83" y="433.65"/><use href="#st" x="444.73" y="316.92"/><use href="#st" x="446.63" y="456.13"/><use href="#st" x="448.53" y="274.39"/><use href="#st" x="450.42" y="288.25"/><use href="#st" x="452.32" y="341.84"/><use href="#st" x="454.22" y="330.6"/><use href="#st" x="456.12" y="311.86"/><use href="#st" x="458.02" y="349.33"/><use href="#st" x="459.91" y="270.64"/><use href="#st" x="461.81" y="319.36"/><use href="#st" x="463.71" y="274.01"/><use href="#st" x="465.61" y="271.02"/><use href="#st" x="467.51" y="330.6"/><use href="#st" x="469.4" y="284.69"/><use href="#st" x="471.3" y="308.11"/><use href="#st" x="473.2" y="308.11"/><use href="#st" x="475.1" y="276.26"/><use href="#st" x="476.99" y="291.25"/><use href="#st" x="478.89" y="300.62"/><use href="#st" x="480.79" y="290.31"/><use href="#st" x="482.69" y="322.17"/><use href="#st" x="484.59" y="313.74"/><use href="#st" x="486.48" y="386.81"/><use href="#st" x="488.38" y="384.93"/><use href="#st" x="490.28" y="298.75"/><use href="#st" x="492.18" y="315.61"/><use href="#st" x="494.07" y="324.04"/><use href="#st" x="495.97" y="272.52"/><use href="#st" x="497.87" y="294.06"/><use href="#st" x="499.77" y="407.42"/><use href="#st" x="501.67" y="270.64"/><use href="#st" x="503.56" y="289.38"/><use href="#st" x="505.46" y="295"/><use href="#st" x="507.36" y="271.58"/><use href="#st" x="509.26" y="374.44"/><use href="#st" x="511.15" y="283.38"/><use href="#st" x="513.05" y="358.7"/><use href="#st" x="514.95" y="319.36"/><use href="#st" x="516.85" y="324.98"/><use href="#st" x="518.75" y="335.28"/><use href="#st" x="520.64" y="362.45"/><use href="#st" x="522.54" y="270.64"/><use href="#st" x="524.44" y="270.64"/><use href="#st" x="526.34" y="279.07"/><use href="#st" x="528.23" y="315.61"/><use href="#st" x="530.13" y="444.89"/><use href="#st" x="532.03" y="368.82"/><use href="#st" x="533.93" y="318.42"/><use href="#st" x="535.83" y="314.67"/><use href="#st" x="537.72" y="326.85"/><use href="#st" x="539.62" y="279.07"/><use href="#st" x="541.52" y="270.64"/><use href="#st" x="543.42" y="304.37"/><use href="#st" x="545.31" y="268.77"/><use href="#st" x="547.21" y="390.55"/><use href="#st" x="549.11" y="271.58"/><use href="#st" x="551.01" y="453.32"/><use href="#st" x="552.91" y="456.13"/><use href="#st" x="554.8" y="326.85"/><use href="#st" x="556.7" y="281.88"/><use href="#st" x="558.6" y="345.59"/><use href="#st" x="560.5" y="323.1"/><use href="#st" x="562.39" y="271.58"/><use href="#st" x="564.29" y="351.21"/><use href="#st" x="566.19" y="270.64"/><use href="#st" x="568.09" y="325.91"/><use href="#st" x="569.99" y="270.64"/><use href="#st" x="571.88" y="330.6"/><use href="#st" x="573.78" y="291.25"/><use href="#st" x="575.68" y="276.26"/><use href="#st" x="577.58" y="278.14"/><use href="#st" x="579.48" y="324.98"/><use href="#st" x="581.37" y="317.48"/><use href="#st" x="583.27" y="291.25"/><use href="#st" x="585.17" y="284.13"/><use href="#st" x="587.07" y="269.71"/><use href="#st" x="588.96" y="268.77"/><use href="#st" x="590.86" y="280.01"/><use href="#st" x="592.76" y="453.32"/><use href="#st" x="594.66" y="306.24"/><use href="#st" x="596.56" y="323.1"/><use href="#st" x="598.45" y="292.38"/><use href="#st" x="600.35" y="398.99"/><use href="#st" x="602.25" y="428.03"/><use href="#st" x="604.15" y="456.13"/><use href="#st" x="606.04" y="378.38"/><use href="#st" x="607.94" y="295.94"/><use href="#st" x="609.84" y="270.64"/><use href="#st" x="611.74" y="311.86"/><use href="#st" x="613.64" y="269.71"/><use href="#st" x="615.53" y="269.71"/><use href="#st" x="617.43" y="381.19"/><use href="#st" x="619.33" y="317.48"/><use href="#st" x="621.23" y="410.23"/><use href="#st" x="623.12" y="273.83"/><use href="#st" x="625.02" y="291.25"/><use href="#st" x="626.92" y="384"/><use href="#st" x="628.82" y="324.04"/><use href="#st" x="630.72" y="332.47"/><use href="#st" x="632.61" y="356.83"/><use href="#st" x="634.51" y="271.58"/><use href="#st" x="636.41" y="454.26"/><use href="#st" x="638.31" y="402.73"/><use href="#st" x="640.2" y="292.19"/><use href="#st" x="642.1" y="354.02"/>
<polyline points="385.9,347.46 387.8,370.88 389.7,287.5 391.59,284.32 393.49,277.01 395.39,415.85 397.29,413.04 399.18,277.76 401.08,413.98 402.98,407.42 404.88,270.64 406.78,283.76 408.67,351.21 410.57,278.14 412.47,282.82 414.37,281.88 416.26,296.87 418.16,300.62 420.06,416.79 421.96,301.56 423.86,276.26 425.75,283.2 427.65,310.92 429.55,412.1 431.45,411.16 433.34,292.19 435.24,271.58 437.14,338.09 439.04,295.37 440.94,273.45 442.83,412.1 444.73,301.56 446.63,422.41 448.53,280.95 450.42,276.08 452.32,324.04 454.22,318.42 456.12,296.87 458.02,330.6 459.91,279.07 461.81,306.24 463.71,287.13 465.61,275.7 467.51,314.67 469.4,280.01 471.3,298.75 473.2,297.43 475.1,282.82 476.99,292.19 478.89,297.81 480.79,285.63 482.69,301.56 484.59,298.75 486.48,360.58 488.38,358.7 490.28,295.94 492.18,306.24 494.07,314.67 495.97,280.95 497.87,292.19 499.77,393.37 501.67,279.07 503.56,281.51 505.46,293.13 507.36,280.01 509.26,351.21 511.15,286.57 513.05,328.72 514.95,308.11 516.85,310.92 518.75,318.42 520.64,332.47 522.54,276.26 524.44,277.2 526.34,286.57 528.23,303.43 530.13,413.98 532.03,342.78 533.93,307.18 535.83,299.68 537.72,320.29 539.62,285.63 541.52,280.01 543.42,300.62 545.31,280.01 547.21,366.2 549.11,278.14 551.01,436.46 552.91,425.22 554.8,310.92 556.7,288.44 558.6,326.85 560.5,309.05 562.39,276.26 564.29,330.6 566.19,275.33 568.09,319.36 569.99,277.2 571.88,319.36 573.78,285.63 575.68,282.82 577.58,285.63 579.48,318.42 581.37,304.37 583.27,286.57 585.17,287.5 587.07,276.26 588.96,279.07 590.86,285.63 592.76,419.6 594.66,301.56 596.56,307.18 598.45,288.44 600.35,381.19 602.25,415.85 604.15,427.09 606.04,354.02 607.94,295 609.84,280.01 611.74,298.75 613.64,279.07 615.53,281.88 617.43,356.83 619.33,306.24 621.23,398.99 623.12,280.95 625.02,286.57 626.92,358.7 628.82,309.99 630.72,314.67 632.61,326.85 634.51,280.01 636.41,429.9 638.31,387.74 640.2,291.25 642.1,324.98" fill="none" stroke="#9a2d70" stroke-width="1.25" stroke-linejoin="round"/>
<g fill="#9a2d70"><circle cx="385.9" cy="347.46" r="2.9"/><circle cx="387.8" cy="370.88" r="2.9"/><circle cx="389.7" cy="287.5" r="2.9"/><circle cx="391.59" cy="284.32" r="2.9"/><circle cx="393.49" cy="277.01" r="2.9"/><circle cx="395.39" cy="415.85" r="2.9"/><circle cx="397.29" cy="413.04" r="2.9"/><circle cx="399.18" cy="277.76" r="2.9"/><circle cx="401.08" cy="413.98" r="2.9"/><circle cx="402.98" cy="407.42" r="2.9"/><circle cx="404.88" cy="270.64" r="2.9"/><circle cx="406.78" cy="283.76" r="2.9"/><circle cx="408.67" cy="351.21" r="2.9"/><circle cx="410.57" cy="278.14" r="2.9"/><circle cx="412.47" cy="282.82" r="2.9"/><circle cx="414.37" cy="281.88" r="2.9"/><circle cx="416.26" cy="296.87" r="2.9"/><circle cx="418.16" cy="300.62" r="2.9"/><circle cx="420.06" cy="416.79" r="2.9"/><circle cx="421.96" cy="301.56" r="2.9"/><circle cx="423.86" cy="276.26" r="2.9"/><circle cx="425.75" cy="283.2" r="2.9"/><circle cx="427.65" cy="310.92" r="2.9"/><circle cx="429.55" cy="412.1" r="2.9"/><circle cx="431.45" cy="411.16" r="2.9"/><circle cx="433.34" cy="292.19" r="2.9"/><circle cx="435.24" cy="271.58" r="2.9"/><circle cx="437.14" cy="338.09" r="2.9"/><circle cx="439.04" cy="295.37" r="2.9"/><circle cx="440.94" cy="273.45" r="2.9"/><circle cx="442.83" cy="412.1" r="2.9"/><circle cx="444.73" cy="301.56" r="2.9"/><circle cx="446.63" cy="422.41" r="2.9"/><circle cx="448.53" cy="280.95" r="2.9"/><circle cx="450.42" cy="276.08" r="2.9"/><circle cx="452.32" cy="324.04" r="2.9"/><circle cx="454.22" cy="318.42" r="2.9"/><circle cx="456.12" cy="296.87" r="2.9"/><circle cx="458.02" cy="330.6" r="2.9"/><circle cx="459.91" cy="279.07" r="2.9"/><circle cx="461.81" cy="306.24" r="2.9"/><circle cx="463.71" cy="287.13" r="2.9"/><circle cx="465.61" cy="275.7" r="2.9"/><circle cx="467.51" cy="314.67" r="2.9"/><circle cx="469.4" cy="280.01" r="2.9"/><circle cx="471.3" cy="298.75" r="2.9"/><circle cx="473.2" cy="297.43" r="2.9"/><circle cx="475.1" cy="282.82" r="2.9"/><circle cx="476.99" cy="292.19" r="2.9"/><circle cx="478.89" cy="297.81" r="2.9"/><circle cx="480.79" cy="285.63" r="2.9"/><circle cx="482.69" cy="301.56" r="2.9"/><circle cx="484.59" cy="298.75" r="2.9"/><circle cx="486.48" cy="360.58" r="2.9"/><circle cx="488.38" cy="358.7" r="2.9"/><circle cx="490.28" cy="295.94" r="2.9"/><circle cx="492.18" cy="306.24" r="2.9"/><circle cx="494.07" cy="314.67" r="2.9"/><circle cx="495.97" cy="280.95" r="2.9"/><circle cx="497.87" cy="292.19" r="2.9"/><circle cx="499.77" cy="393.37" r="2.9"/><circle cx="501.67" cy="279.07" r="2.9"/><circle cx="503.56" cy="281.51" r="2.9"/><circle cx="505.46" cy="293.13" r="2.9"/><circle cx="507.36" cy="280.01" r="2.9"/><circle cx="509.26" cy="351.21" r="2.9"/><circle cx="511.15" cy="286.57" r="2.9"/><circle cx="513.05" cy="328.72" r="2.9"/><circle cx="514.95" cy="308.11" r="2.9"/><circle cx="516.85" cy="310.92" r="2.9"/><circle cx="518.75" cy="318.42" r="2.9"/><circle cx="520.64" cy="332.47" r="2.9"/><circle cx="522.54" cy="276.26" r="2.9"/><circle cx="524.44" cy="277.2" r="2.9"/><circle cx="526.34" cy="286.57" r="2.9"/><circle cx="528.23" cy="303.43" r="2.9"/><circle cx="530.13" cy="413.98" r="2.9"/><circle cx="532.03" cy="342.78" r="2.9"/><circle cx="533.93" cy="307.18" r="2.9"/><circle cx="535.83" cy="299.68" r="2.9"/><circle cx="537.72" cy="320.29" r="2.9"/><circle cx="539.62" cy="285.63" r="2.9"/><circle cx="541.52" cy="280.01" r="2.9"/><circle cx="543.42" cy="300.62" r="2.9"/><circle cx="545.31" cy="280.01" r="2.9"/><circle cx="547.21" cy="366.2" r="2.9"/><circle cx="549.11" cy="278.14" r="2.9"/><circle cx="551.01" cy="436.46" r="2.9"/><circle cx="552.91" cy="425.22" r="2.9"/><circle cx="554.8" cy="310.92" r="2.9"/><circle cx="556.7" cy="288.44" r="2.9"/><circle cx="558.6" cy="326.85" r="2.9"/><circle cx="560.5" cy="309.05" r="2.9"/><circle cx="562.39" cy="276.26" r="2.9"/><circle cx="564.29" cy="330.6" r="2.9"/><circle cx="566.19" cy="275.33" r="2.9"/><circle cx="568.09" cy="319.36" r="2.9"/><circle cx="569.99" cy="277.2" r="2.9"/><circle cx="571.88" cy="319.36" r="2.9"/><circle cx="573.78" cy="285.63" r="2.9"/><circle cx="575.68" cy="282.82" r="2.9"/><circle cx="577.58" cy="285.63" r="2.9"/><circle cx="579.48" cy="318.42" r="2.9"/><circle cx="581.37" cy="304.37" r="2.9"/><circle cx="583.27" cy="286.57" r="2.9"/><circle cx="585.17" cy="287.5" r="2.9"/><circle cx="587.07" cy="276.26" r="2.9"/><circle cx="588.96" cy="279.07" r="2.9"/><circle cx="590.86" cy="285.63" r="2.9"/><circle cx="592.76" cy="419.6" r="2.9"/><circle cx="594.66" cy="301.56" r="2.9"/><circle cx="596.56" cy="307.18" r="2.9"/><circle cx="598.45" cy="288.44" r="2.9"/><circle cx="600.35" cy="381.19" r="2.9"/><circle cx="602.25" cy="415.85" r="2.9"/><circle cx="604.15" cy="427.09" r="2.9"/><circle cx="606.04" cy="354.02" r="2.9"/><circle cx="607.94" cy="295" r="2.9"/><circle cx="609.84" cy="280.01" r="2.9"/><circle cx="611.74" cy="298.75" r="2.9"/><circle cx="613.64" cy="279.07" r="2.9"/><circle cx="615.53" cy="281.88" r="2.9"/><circle cx="617.43" cy="356.83" r="2.9"/><circle cx="619.33" cy="306.24" r="2.9"/><circle cx="621.23" cy="398.99" r="2.9"/><circle cx="623.12" cy="280.95" r="2.9"/><circle cx="625.02" cy="286.57" r="2.9"/><circle cx="626.92" cy="358.7" r="2.9"/><circle cx="628.82" cy="309.99" r="2.9"/><circle cx="630.72" cy="314.67" r="2.9"/><circle cx="632.61" cy="326.85" r="2.9"/><circle cx="634.51" cy="280.01" r="2.9"/><circle cx="636.41" cy="429.9" r="2.9"/><circle cx="638.31" cy="387.74" r="2.9"/><circle cx="640.2" cy="291.25" r="2.9"/><circle cx="642.1" cy="324.98" r="2.9"/></g>
</g>
<g stroke="#000" stroke-width="0.64">
<line x1="383.1" x2="385.9" y1="456.13" y2="456.13"/>
<line x1="383.1" x2="385.9" y1="418.66" y2="418.66"/>
<line x1="383.1" x2="385.9" y1="381.19" y2="381.19"/>
<line x1="383.1" x2="385.9" y1="343.71" y2="343.71"/>
<line x1="383.1" x2="385.9" y1="306.24" y2="306.24"/>
<line x1="383.1" x2="385.9" y1="268.77" y2="268.77"/>
<line x1="385.9" x2="385.9" y1="465.5" y2="468.3"/>
<line x1="423.86" x2="423.86" y1="465.5" y2="468.3"/>
<line x1="461.81" x2="461.81" y1="465.5" y2="468.3"/>
<line x1="499.77" x2="499.77" y1="465.5" y2="468.3"/>
<line x1="537.72" x2="537.72" y1="465.5" y2="468.3"/>
<line x1="575.68" x2="575.68" y1="465.5" y2="468.3"/>
<line x1="613.64" x2="613.64" y1="465.5" y2="468.3"/>
</g>
<g fill="#000">
<text x="380.3" y="459.63" text-anchor="end">0.0</text>
<text x="380.3" y="422.16" text-anchor="end">0.2</text>
<text x="380.3" y="384.69" text-anchor="end">0.4</text>
<text x="380.3" y="347.21" text-anchor="end">0.6</text>
<text x="380.3" y="309.74" text-anchor="end">0.8</text>
<text x="380.3" y="272.27" text-anchor="end">1.0</text>
<text x="385.9" y="477.5" text-anchor="middle">0</text>
<text x="423.86" y="477.5" text-anchor="middle">20</text>
<text x="461.81" y="477.5" text-anchor="middle">40</text>
<text x="499.77" y="477.5" text-anchor="middle">60</text>
<text x="537.72" y="477.5" text-anchor="middle">80</text>
<text x="575.68" y="477.5" text-anchor="middle">100</text>
<text x="613.64" y="477.5" text-anchor="middle">120</text>
<text x="514.95" y="489.7" text-anchor="middle">Data Samples</text>
<text transform="translate(361.9 361.65) rotate(-90)" text-anchor="middle">Target and Predictions</text>
</g>
<g id="leg4a">
<rect x="389.9" y="263.4" width="72.4" height="40.2" rx="1.6" fill="#fff" fill-opacity="0.8" stroke="#ccc" stroke-opacity="0.8" stroke-width="0.8"/>
<rect x="392.9" y="267.9" width="18" height="5.8" fill="#bdf2bd"/>
<text x="417.5" y="273.7">Test Set</text>
<line x1="392.9" x2="410.9" y1="283.6" y2="283.6" stroke="#000" stroke-width="0.9"/>
<use href="#st" x="401.9" y="283.6"/>
<text x="417.5" y="286.5">Actual</text>
<line x1="392.9" x2="410.9" y1="296.4" y2="296.4" stroke="#9a2d70" stroke-width="1.5"/>
<circle cx="401.9" cy="296.4" r="2.9" fill="#9a2d70"/>
<text x="417.5" y="299.3">YDSE-MLP</text>
</g>
<polyline clip-path="url(#c3)" points="385.9,349.95 387.8,351.73 389.7,396.1 391.59,385.45 393.49,382.97 395.39,332.2 397.29,349.95 399.18,373.03 401.08,376.58 402.98,381.9 404.88,394.33 406.78,383.68 408.67,348.18 410.57,385.45 412.47,385.45 414.37,387.23 416.26,392.55 418.16,367.7 420.06,328.65 421.96,362.38 423.86,389 425.75,381.9 427.65,371.25 429.55,341.08 431.45,381.9 433.34,389 435.24,392.55 437.14,344.62 439.04,385.45 440.94,394.33 442.83,355.28 444.73,366.99 446.63,332.2 448.53,383.68 450.42,373.03 452.32,362.38 454.22,373.03 456.12,367.7 458.02,360.6 459.91,380.12 461.81,371.25 463.71,371.25 465.61,387.23 467.51,365.93 469.4,387.23 471.3,378.35 473.2,375.87 475.1,383.68 476.99,394.33 478.89,390.78 480.79,387.23 482.69,357.05 484.59,367.7 486.48,346.4 488.38,346.4 490.28,390.78 492.18,378.35 494.07,378.35 495.97,380.13 497.87,392.55 499.77,369.48 501.67,380.12 503.56,381.19 505.46,392.55 507.36,380.12 509.26,352.08 511.15,390.06 513.05,339.3 514.95,374.8 516.85,369.48 518.75,364.15 520.64,339.3 522.54,385.45 524.44,383.68 526.34,381.9 528.23,373.03 530.13,337.53 532.03,346.76 533.93,374.8 535.83,367.7 537.72,383.68 539.62,383.68 541.52,378.35 543.42,389 545.31,374.8 547.21,349.95 549.11,383.68 551.01,364.15 552.91,337.53 554.8,365.93 556.7,383.68 558.6,360.6 560.5,369.48 562.39,387.23 564.29,357.05 566.19,387.23 568.09,383.68 569.99,383.68 571.88,374.8 573.78,385.45 575.68,383.68 577.58,381.9 579.48,383.68 581.37,371.25 583.27,387.23 585.17,389.71 587.07,383.68 588.96,376.57 590.86,385.45 592.76,332.2 594.66,387.23 596.56,365.93 598.45,388.65 600.35,362.38 602.25,373.03 604.15,341.08 606.04,349.95 607.94,394.33 609.84,378.35 611.74,371.25 613.64,378.35 615.53,373.03 617.43,349.95 619.33,374.8 621.23,374.8 623.12,382.61 625.02,387.23 626.92,348.18 628.82,369.48 630.72,362.38 632.61,339.3 634.51,380.12 636.41,349.95 638.31,367.7 640.2,394.33 642.1,341.08" fill="none" stroke="#ee0f68" stroke-width="1.3" stroke-linejoin="round"/>
<g stroke="#f61212" stroke-width="0.64">
<line x1="644" x2="646.8" y1="431.6" y2="431.6"/>
<line x1="644" x2="646.8" y1="396.1" y2="396.1"/>
<line x1="644" x2="646.8" y1="360.6" y2="360.6"/>
<line x1="644" x2="646.8" y1="325.1" y2="325.1"/>
<line x1="644" x2="646.8" y1="289.6" y2="289.6"/>
</g>
<g fill="#f61212">
<text x="650.1" y="435">−0.1</text>
<text x="650.1" y="399.5">0.0</text>
<text x="650.1" y="364">0.1</text>
<text x="650.1" y="328.5">0.2</text>
<text x="650.1" y="293">0.3</text>
<text transform="translate(681.1 363.25) rotate(-90)" text-anchor="middle">Error</text>
</g>
<g id="leg4b">
<rect x="454.42" y="263.4" width="51" height="13.8" rx="1.6" fill="#fff" fill-opacity="0.8" stroke="#ccc" stroke-opacity="0.8" stroke-width="0.8"/>
<line x1="457.42" x2="475.42" y1="270.8" y2="270.8" stroke="#ee0f68" stroke-width="1.6"/>
<text x="482.02" y="273.7">Error</text>
</g>
<rect x="385.9" y="259.4" width="258.1" height="206.1" fill="none" stroke="#000" stroke-width="0.64"/>
</g>
<g id="panel5">
<clipPath id="c4"><rect x="34.2" y="518.4" width="255.4" height="203.1"/></clipPath>
<rect x="236.08" y="518.4" width="53.52" height="203.1" fill="#bdf2bd"/>
<g clip-path="url(#c4)">
<polyline points="34.2,629.18 36.08,651.34 37.96,546.1 39.83,548.5 41.71,528.92 43.59,705.81 45.47,693.8 47.35,548.5 49.22,680.88 51.1,671.65 52.98,528.56 54.86,548.87 56.74,633.8 58.61,531.32 60.49,535.94 62.37,545.17 64.25,553.48 66.12,573.79 68,708.58 69.88,577.48 71.76,531.32 73.64,549.23 75.51,582.1 77.39,697.5 79.27,675.34 81.15,554.4 83.03,528.56 84.9,622.72 86.78,559.39 88.66,531.32 90.54,690.11 92.42,575.08 94.29,712.27 96.17,533.17 98.05,546.83 99.93,599.64 101.81,588.56 103.68,570.1 105.56,607.03 107.44,529.48 109.32,577.48 111.2,532.8 113.07,529.85 114.95,588.56 116.83,543.33 118.71,566.41 120.59,566.41 122.46,535.02 124.34,549.79 126.22,559.02 128.1,548.87 129.98,580.25 131.85,571.94 133.73,643.95 135.61,642.11 137.49,557.17 139.36,573.79 141.24,582.1 143.12,531.32 145,552.56 146.88,664.26 148.75,529.48 150.63,547.94 152.51,553.48 154.39,530.4 156.27,631.77 158.14,542.03 160.02,616.26 161.9,577.48 163.78,583.02 165.66,593.18 167.53,619.95 169.41,529.48 171.29,529.48 173.17,537.79 175.05,573.79 176.92,701.19 178.8,626.23 180.68,576.56 182.56,572.87 184.44,584.87 186.31,537.79 188.19,529.48 190.07,562.71 191.95,527.63 193.83,647.65 195.7,530.4 197.58,709.5 199.46,712.27 201.34,584.87 203.21,540.56 205.09,603.33 206.97,581.18 208.85,530.4 210.73,608.87 212.6,529.48 214.48,583.95 216.36,529.48 218.24,588.56 220.12,549.79 221.99,535.02 223.87,536.86 225.75,583.02 227.63,575.64 229.51,549.79 231.38,542.77 233.26,528.56 235.14,527.63 237.02,538.71 238.9,709.5 240.77,564.56 242.65,581.18 244.53,550.9 246.41,655.95 248.29,684.57 250.16,712.27 252.04,635.64 253.92,554.4 255.8,529.48 257.68,570.1 259.55,528.56 261.43,528.56 263.31,638.41 265.19,575.64 267.06,667.03 268.94,532.62 270.82,549.79 272.7,641.18 274.58,582.1 276.45,590.41 278.33,614.41 280.21,530.4 282.09,710.42 283.97,659.65 285.84,550.71 287.72,611.64" fill="none" stroke="#000" stroke-width="0.9" stroke-linejoin="round"/>
<use href="#st" x="34.2" y="629.18"/><use href="#st" x="36.08" y="651.34"/><use href="#st" x="37.96" y="546.1"/><use href="#st" x="39.83" y="548.5"/><use href="#st" x="41.71" y="528.92"/><use href="#st" x="43.59" y="705.81"/><use href="#st" x="45.47" y="693.8"/><use href="#st" x="47.35" y="548.5"/><use href="#st" x="49.22" y="680.88"/><use href="#st" x="51.1" y="671.65"/><use href="#st" x="52.98" y="528.56"/><use href="#st" x="54.86" y="548.87"/><use href="#st" x="56.74" y="633.8"/><use href="#st" x="58.61" y="531.32"/><use href="#st" x="60.49" y="535.94"/><use href="#st" x="62.37" y="545.17"/><use href="#st" x="64.25" y="553.48"/><use href="#st" x="66.12" y="573.79"/><use href="#st" x="68" y="708.58"/><use href="#st" x="69.88" y="577.48"/><use href="#st" x="71.76" y="531.32"/><use href="#st" x="73.64" y="549.23"/><use href="#st" x="75.51" y="582.1"/><use href="#st" x="77.39" y="697.5"/><use href="#st" x="79.27" y="675.34"/><use href="#st" x="81.15" y="554.4"/><use href="#st" x="83.03" y="528.56"/><use href="#st" x="84.9" y="622.72"/><use href="#st" x="86.78" y="559.39"/><use href="#st" x="88.66" y="531.32"/><use href="#st" x="90.54" y="690.11"/><use href="#st" x="92.42" y="575.08"/><use href="#st" x="94.29" y="712.27"/><use href="#st" x="96.17" y="533.17"/><use href="#st" x="98.05" y="546.83"/><use href="#st" x="99.93" y="599.64"/><use href="#st" x="101.81" y="588.56"/><use href="#st" x="103.68" y="570.1"/><use href="#st" x="105.56" y="607.03"/><use href="#st" x="107.44" y="529.48"/><use href="#st" x="109.32" y="577.48"/><use href="#st" x="111.2" y="532.8"/><use href="#st" x="113.07" y="529.85"/><use href="#st" x="114.95" y="588.56"/><use href="#st" x="116.83" y="543.33"/><use href="#st" x="118.71" y="566.41"/><use href="#st" x="120.59" y="566.41"/><use href="#st" x="122.46" y="535.02"/><use href="#st" x="124.34" y="549.79"/><use href="#st" x="126.22" y="559.02"/><use href="#st" x="128.1" y="548.87"/><use href="#st" x="129.98" y="580.25"/><use href="#st" x="131.85" y="571.94"/><use href="#st" x="133.73" y="643.95"/><use href="#st" x="135.61" y="642.11"/><use href="#st" x="137.49" y="557.17"/><use href="#st" x="139.36" y="573.79"/><use href="#st" x="141.24" y="582.1"/><use href="#st" x="143.12" y="531.32"/><use href="#st" x="145" y="552.56"/><use href="#st" x="146.88" y="664.26"/><use href="#st" x="148.75" y="529.48"/><use href="#st" x="150.63" y="547.94"/><use href="#st" x="152.51" y="553.48"/><use href="#st" x="154.39" y="530.4"/><use href="#st" x="156.27" y="631.77"/><use href="#st" x="158.14" y="542.03"/><use href="#st" x="160.02" y="616.26"/><use href="#st" x="161.9" y="577.48"/><use href="#st" x="163.78" y="583.02"/><use href="#st" x="165.66" y="593.18"/><use href="#st" x="167.53" y="619.95"/><use href="#st" x="169.41" y="529.48"/><use href="#st" x="171.29" y="529.48"/><use href="#st" x="173.17" y="537.79"/><use href="#st" x="175.05" y="573.79"/><use href="#st" x="176.92" y="701.19"/><use href="#st" x="178.8" y="626.23"/><use href="#st" x="180.68" y="576.56"/><use href="#st" x="182.56" y="572.87"/><use href="#st" x="184.44" y="584.87"/><use href="#st" x="186.31" y="537.79"/><use href="#st" x="188.19" y="529.48"/><use href="#st" x="190.07" y="562.71"/><use href="#st" x="191.95" y="527.63"/><use href="#st" x="193.83" y="647.65"/><use href="#st" x="195.7" y="530.4"/><use href="#st" x="197.58" y="709.5"/><use href="#st" x="199.46" y="712.27"/><use href="#st" x="201.34" y="584.87"/><use href="#st" x="203.21" y="540.56"/><use href="#st" x="205.09" y="603.33"/><use href="#st" x="206.97" y="581.18"/><use href="#st" x="208.85" y="530.4"/><use href="#st" x="210.73" y="608.87"/><use href="#st" x="212.6" y="529.48"/><use href="#st" x="214.48" y="583.95"/><use href="#st" x="216.36" y="529.48"/><use href="#st" x="218.24" y="588.56"/><use href="#st" x="220.12" y="549.79"/><use href="#st" x="221.99" y="535.02"/><use href="#st" x="223.87" y="536.86"/><use href="#st" x="225.75" y="583.02"/><use href="#st" x="227.63" y="575.64"/><use href="#st" x="229.51" y="549.79"/><use href="#st" x="231.38" y="542.77"/><use href="#st" x="233.26" y="528.56"/><use href="#st" x="235.14" y="527.63"/><use href="#st" x="237.02" y="538.71"/><use href="#st" x="238.9" y="709.5"/><use href="#st" x="240.77" y="564.56"/><use href="#st" x="242.65" y="581.18"/><use href="#st" x="244.53" y="550.9"/><use href="#st" x="246.41" y="655.95"/><use href="#st" x="248.29" y="684.57"/><use href="#st" x="250.16" y="712.27"/><use href="#st" x="252.04" y="635.64"/><use href="#st" x="253.92" y="554.4"/><use href="#st" x="255.8" y="529.48"/><use href="#st" x="257.68" y="570.1"/><use href="#st" x="259.55" y="528.56"/><use href="#st" x="261.43" y="528.56"/><use href="#st" x="263.31" y="638.41"/><use href="#st" x="265.19" y="575.64"/><use href="#st" x="267.06" y="667.03"/><use href="#st" x="268.94" y="532.62"/><use href="#st" x="270.82" y="549.79"/><use href="#st" x="272.7" y="641.18"/><use href="#st" x="274.58" y="582.1"/><use href="#st" x="276.45" y="590.41"/><use href="#st" x="278.33" y="614.41"/><use href="#st" x="280.21" y="530.4"/><use href="#st" x="282.09" y="710.42"/><use href="#st" x="283.97" y="659.65"/><use href="#st" x="285.84" y="550.71"/><use href="#st" x="287.72" y="611.64"/>
<polyline points="34.2,598.72 36.08,663.34 37.96,534.09 39.83,531.88 41.71,535.02 43.59,712.27 45.47,712.27 47.35,544.8 49.22,688.27 51.1,679.03 52.98,537.79 54.86,535.94 56.74,651.34 58.61,540.56 60.49,545.17 62.37,544.25 64.25,550.71 66.12,576.56 68,712.27 69.88,552.56 71.76,547.02 73.64,531.69 75.51,549.79 77.39,712.27 79.27,683.65 81.15,539.63 83.03,541.48 84.9,586.72 86.78,535.39 88.66,542.4 90.54,712.27 92.42,573.79 94.29,712.27 96.17,543.33 98.05,545.91 99.93,590.41 101.81,582.1 103.68,553.48 105.56,601.49 107.44,532.25 109.32,565.48 111.2,539.26 113.07,530.77 114.95,581.18 116.83,539.63 118.71,540.56 120.59,547.94 122.46,538.71 124.34,540.56 126.22,532.25 128.1,532.25 129.98,550.71 131.85,569.17 133.73,663.34 135.61,663.34 137.49,544.25 139.36,572.87 141.24,569.17 143.12,531.32 145,540.56 146.88,676.26 148.75,531.32 150.63,545.17 152.51,550.71 154.39,533.17 156.27,611.64 158.14,532.25 160.02,617.18 161.9,598.72 163.78,581.18 165.66,582.1 167.53,614.41 169.41,529.48 171.29,530.4 173.17,531.32 175.05,567.33 176.92,712.27 178.8,589.3 180.68,594.1 182.56,573.79 184.44,584.87 186.31,530.4 188.19,530.4 190.07,530.4 191.95,530.4 193.83,662.42 195.7,530.4 197.58,710.42 199.46,712.27 201.34,576.56 203.21,530.4 205.09,596.87 206.97,598.72 208.85,529.48 210.73,606.1 212.6,529.48 214.48,581.18 216.36,529.48 218.24,583.02 220.12,532.25 221.99,530.4 223.87,530.4 225.75,575.64 227.63,565.48 229.51,540.56 231.38,531.32 233.26,530.4 235.14,530.4 237.02,530.4 238.9,712.27 240.77,533.17 242.65,547.02 244.53,543.33 246.41,669.8 248.29,693.8 250.16,712.27 252.04,662.42 253.92,548.87 255.8,535.02 257.68,558.1 259.55,531.32 261.43,530.4 263.31,668.88 265.19,587.64 267.06,679.03 268.94,531.32 270.82,534.09 272.7,671.65 274.58,582.1 276.45,580.25 278.33,617.18 280.21,535.02 282.09,712.27 283.97,673.49 285.84,540.56 287.72,616.26" fill="none" stroke="#ffa500" stroke-width="1.25" stroke-linejoin="round"/>
<g fill="#ffa500"><circle cx="34.2" cy="598.72" r="2.9"/><circle cx="36.08" cy="663.34" r="2.9"/><circle cx="37.96" cy="534.09" r="2.9"/><circle cx="39.83" cy="531.88" r="2.9"/><circle cx="41.71" cy="535.02" r="2.9"/><circle cx="43.59" cy="712.27" r="2.9"/><circle cx="45.47" cy="712.27" r="2.9"/><circle cx="47.35" cy="544.8" r="2.9"/><circle cx="49.22" cy="688.27" r="2.9"/><circle cx="51.1" cy="679.03" r="2.9"/><circle cx="52.98" cy="537.79" r="2.9"/><circle cx="54.86" cy="535.94" r="2.9"/><circle cx="56.74" cy="651.34" r="2.9"/><circle cx="58.61" cy="540.56" r="2.9"/><circle cx="60.49" cy="545.17" r="2.9"/><circle cx="62.37" cy="544.25" r="2.9"/><circle cx="64.25" cy="550.71" r="2.9"/><circle cx="66.12" cy="576.56" r="2.9"/><circle cx="68" cy="712.27" r="2.9"/><circle cx="69.88" cy="552.56" r="2.9"/><circle cx="71.76" cy="547.02" r="2.9"/><circle cx="73.64" cy="531.69" r="2.9"/><circle cx="75.51" cy="549.79" r="2.9"/><circle cx="77.39" cy="712.27" r="2.9"/><circle cx="79.27" cy="683.65" r="2.9"/><circle cx="81.15" cy="539.63" r="2.9"/><circle cx="83.03" cy="541.48" r="2.9"/><circle cx="84.9" cy="586.72" r="2.9"/><circle cx="86.78" cy="535.39" r="2.9"/><circle cx="88.66" cy="542.4" r="2.9"/><circle cx="90.54" cy="712.27" r="2.9"/><circle cx="92.42" cy="573.79" r="2.9"/><circle cx="94.29" cy="712.27" r="2.9"/><circle cx="96.17" cy="543.33" r="2.9"/><circle cx="98.05" cy="545.91" r="2.9"/><circle cx="99.93" cy="590.41" r="2.9"/><circle cx="101.81" cy="582.1" r="2.9"/><circle cx="103.68" cy="553.48" r="2.9"/><circle cx="105.56" cy="601.49" r="2.9"/><circle cx="107.44" cy="532.25" r="2.9"/><circle cx="109.32" cy="565.48" r="2.9"/><circle cx="111.2" cy="539.26" r="2.9"/><circle cx="113.07" cy="530.77" r="2.9"/><circle cx="114.95" cy="581.18" r="2.9"/><circle cx="116.83" cy="539.63" r="2.9"/><circle cx="118.71" cy="540.56" r="2.9"/><circle cx="120.59" cy="547.94" r="2.9"/><circle cx="122.46" cy="538.71" r="2.9"/><circle cx="124.34" cy="540.56" r="2.9"/><circle cx="126.22" cy="532.25" r="2.9"/><circle cx="128.1" cy="532.25" r="2.9"/><circle cx="129.98" cy="550.71" r="2.9"/><circle cx="131.85" cy="569.17" r="2.9"/><circle cx="133.73" cy="663.34" r="2.9"/><circle cx="135.61" cy="663.34" r="2.9"/><circle cx="137.49" cy="544.25" r="2.9"/><circle cx="139.36" cy="572.87" r="2.9"/><circle cx="141.24" cy="569.17" r="2.9"/><circle cx="143.12" cy="531.32" r="2.9"/><circle cx="145" cy="540.56" r="2.9"/><circle cx="146.88" cy="676.26" r="2.9"/><circle cx="148.75" cy="531.32" r="2.9"/><circle cx="150.63" cy="545.17" r="2.9"/><circle cx="152.51" cy="550.71" r="2.9"/><circle cx="154.39" cy="533.17" r="2.9"/><circle cx="156.27" cy="611.64" r="2.9"/><circle cx="158.14" cy="532.25" r="2.9"/><circle cx="160.02" cy="617.18" r="2.9"/><circle cx="161.9" cy="598.72" r="2.9"/><circle cx="163.78" cy="581.18" r="2.9"/><circle cx="165.66" cy="582.1" r="2.9"/><circle cx="167.53" cy="614.41" r="2.9"/><circle cx="169.41" cy="529.48" r="2.9"/><circle cx="171.29" cy="530.4" r="2.9"/><circle cx="173.17" cy="531.32" r="2.9"/><circle cx="175.05" cy="567.33" r="2.9"/><circle cx="176.92" cy="712.27" r="2.9"/><circle cx="178.8" cy="589.3" r="2.9"/><circle cx="180.68" cy="594.1" r="2.9"/><circle cx="182.56" cy="573.79" r="2.9"/><circle cx="184.44" cy="584.87" r="2.9"/><circle cx="186.31" cy="530.4" r="2.9"/><circle cx="188.19" cy="530.4" r="2.9"/><circle cx="190.07" cy="530.4" r="2.9"/><circle cx="191.95" cy="530.4" r="2.9"/><circle cx="193.83" cy="662.42" r="2.9"/><circle cx="195.7" cy="530.4" r="2.9"/><circle cx="197.58" cy="710.42" r="2.9"/><circle cx="199.46" cy="712.27" r="2.9"/><circle cx="201.34" cy="576.56" r="2.9"/><circle cx="203.21" cy="530.4" r="2.9"/><circle cx="205.09" cy="596.87" r="2.9"/><circle cx="206.97" cy="598.72" r="2.9"/><circle cx="208.85" cy="529.48" r="2.9"/><circle cx="210.73" cy="606.1" r="2.9"/><circle cx="212.6" cy="529.48" r="2.9"/><circle cx="214.48" cy="581.18" r="2.9"/><circle cx="216.36" cy="529.48" r="2.9"/><circle cx="218.24" cy="583.02" r="2.9"/><circle cx="220.12" cy="532.25" r="2.9"/><circle cx="221.99" cy="530.4" r="2.9"/><circle cx="223.87" cy="530.4" r="2.9"/><circle cx="225.75" cy="575.64" r="2.9"/><circle cx="227.63" cy="565.48" r="2.9"/><circle cx="229.51" cy="540.56" r="2.9"/><circle cx="231.38" cy="531.32" r="2.9"/><circle cx="233.26" cy="530.4" r="2.9"/><circle cx="235.14" cy="530.4" r="2.9"/><circle cx="237.02" cy="530.4" r="2.9"/><circle cx="238.9" cy="712.27" r="2.9"/><circle cx="240.77" cy="533.17" r="2.9"/><circle cx="242.65" cy="547.02" r="2.9"/><circle cx="244.53" cy="543.33" r="2.9"/><circle cx="246.41" cy="669.8" r="2.9"/><circle cx="248.29" cy="693.8" r="2.9"/><circle cx="250.16" cy="712.27" r="2.9"/><circle cx="252.04" cy="662.42" r="2.9"/><circle cx="253.92" cy="548.87" r="2.9"/><circle cx="255.8" cy="535.02" r="2.9"/><circle cx="257.68" cy="558.1" r="2.9"/><circle cx="259.55" cy="531.32" r="2.9"/><circle cx="261.43" cy="530.4" r="2.9"/><circle cx="263.31" cy="668.88" r="2.9"/><circle cx="265.19" cy="587.64" r="2.9"/><circle cx="267.06" cy="679.03" r="2.9"/><circle cx="268.94" cy="531.32" r="2.9"/><circle cx="270.82" cy="534.09" r="2.9"/><circle cx="272.7" cy="671.65" r="2.9"/><circle cx="274.58" cy="582.1" r="2.9"/><circle cx="276.45" cy="580.25" r="2.9"/><circle cx="278.33" cy="617.18" r="2.9"/><circle cx="280.21" cy="535.02" r="2.9"/><circle cx="282.09" cy="712.27" r="2.9"/><circle cx="283.97" cy="673.49" r="2.9"/><circle cx="285.84" cy="540.56" r="2.9"/><circle cx="287.72" cy="616.26" r="2.9"/></g>
</g>
<g stroke="#000" stroke-width="0.64">
<line x1="31.4" x2="34.2" y1="712.27" y2="712.27"/>
<line x1="31.4" x2="34.2" y1="675.34" y2="675.34"/>
<line x1="31.4" x2="34.2" y1="638.41" y2="638.41"/>
<line x1="31.4" x2="34.2" y1="601.49" y2="601.49"/>
<line x1="31.4" x2="34.2" y1="564.56" y2="564.56"/>
<line x1="31.4" x2="34.2" y1="527.63" y2="527.63"/>
<line x1="34.2" x2="34.2" y1="721.5" y2="724.3"/>
<line x1="71.76" x2="71.76" y1="721.5" y2="724.3"/>
<line x1="109.32" x2="109.32" y1="721.5" y2="724.3"/>
<line x1="146.88" x2="146.88" y1="721.5" y2="724.3"/>
<line x1="184.44" x2="184.44" y1="721.5" y2="724.3"/>
<line x1="221.99" x2="221.99" y1="721.5" y2="724.3"/>
<line x1="259.55" x2="259.55" y1="721.5" y2="724.3"/>
</g>
<g fill="#000">
<text x="28.6" y="715.77" text-anchor="end">0.0</text>
<text x="28.6" y="678.84" text-anchor="end">0.2</text>
<text x="28.6" y="641.91" text-anchor="end">0.4</text>
<text x="28.6" y="604.99" text-anchor="end">0.6</text>
<text x="28.6" y="568.06" text-anchor="end">0.8</text>
<text x="28.6" y="531.13" text-anchor="end">1.0</text>
<text x="34.2" y="734" text-anchor="middle">0</text>
<text x="71.76" y="734" text-anchor="middle">20</text>
<text x="109.32" y="734" text-anchor="middle">40</text>
<text x="146.88" y="734" text-anchor="middle">60</text>
<text x="184.44" y="734" text-anchor="middle">80</text>
<text x="221.99" y="734" text-anchor="middle">100</text>
<text x="259.55" y="734" text-anchor="middle">120</text>
<text x="161.9" y="745.7" text-anchor="middle">Data Samples</text>
<text transform="translate(10.2 619.15) rotate(-90)" text-anchor="middle">Target and Predictions</text>
</g>
<g id="leg5a">
<rect x="38.2" y="522.4" width="69.4" height="40.2" rx="1.6" fill="#fff" fill-opacity="0.8" stroke="#ccc" stroke-opacity="0.8" stroke-width="0.8"/>
<rect x="41.2" y="526.9" width="18" height="5.8" fill="#bdf2bd"/>
<text x="65.8" y="532.7">Test Set</text>
<line x1="41.2" x2="59.2" y1="542.6" y2="542.6" stroke="#000" stroke-width="0.9"/>
<use href="#st" x="50.2" y="542.6"/>
<text x="65.8" y="545.5">Actual</text>
<line x1="41.2" x2="59.2" y1="555.4" y2="555.4" stroke="#ffa500" stroke-width="1.5"/>
<circle cx="50.2" cy="555.4" r="2.9" fill="#ffa500"/>
<text x="65.8" y="558.3">GRO-MLP</text>
</g>
<polyline clip-path="url(#c4)" points="34.2,598.07 36.08,631.97 37.96,631.97 39.83,623.49 41.71,642.81 43.59,642.13 45.47,620.1 47.35,647.22 49.22,640.44 51.1,640.44 52.98,637.05 54.86,630.27 56.74,621.79 58.61,637.05 60.49,637.05 62.37,652.3 64.25,648.91 66.12,648.91 68,647.22 69.88,608.24 71.76,625.19 73.64,621.79 75.51,594.67 77.39,626.88 79.27,638.75 81.15,626.88 83.03,630.27 84.9,587.89 86.78,609.93 88.66,633.66 90.54,613.32 92.42,651.63 94.29,654 96.17,635.36 98.05,652.3 99.93,637.05 101.81,642.13 103.68,623.49 105.56,643.83 107.44,648.91 109.32,631.97 111.2,642.13 113.07,652.3 114.95,640.44 116.83,647.22 118.71,606.54 120.59,620.1 122.46,647.22 124.34,637.05 126.22,604.85 128.1,623.49 129.98,599.76 131.85,648.91 133.73,618.4 135.61,615.01 137.49,630.27 139.36,652.3 141.24,630.27 143.12,654 145,631.97 146.88,631.97 148.75,650.61 150.63,648.91 152.51,648.91 154.39,648.91 156.27,617.05 158.14,636.03 160.02,652.3 161.9,615.01 163.78,650.61 165.66,633.66 167.53,643.83 169.41,654 171.29,652.3 173.17,642.13 175.05,642.13 176.92,633.66 178.8,586.2 180.68,621.79 182.56,652.3 184.44,654 186.31,640.44 188.19,652.3 190.07,594.68 191.95,648.91 193.83,626.88 195.7,654 197.58,652.3 199.46,654 201.34,638.75 203.21,635.36 205.09,642.13 206.97,621.79 208.85,652.3 210.73,648.92 212.6,654 214.48,648.91 216.36,654 218.24,643.83 220.12,621.79 221.99,645.52 223.87,642.13 225.75,640.44 227.63,635.36 229.51,637.05 231.38,632.98 233.26,650.61 235.14,648.91 237.02,638.75 238.9,648.91 240.77,596.37 242.65,591.28 244.53,640.1 246.41,628.58 248.29,637.05 250.16,654 252.04,604.85 253.92,643.83 255.8,643.83 257.68,631.97 259.55,648.91 261.43,650.61 263.31,598.06 265.19,631.97 267.06,631.97 268.94,651.63 270.82,625.19 272.7,598.07 274.58,654 276.45,635.36 278.33,648.91 280.21,645.52 282.09,650.61 283.97,628.58 285.84,635.36 287.72,645.52" fill="none" stroke="#ee0f68" stroke-width="1.3" stroke-linejoin="round"/>
<g stroke="#f61212" stroke-width="0.64">
<line x1="289.6" x2="292.4" y1="687.9" y2="687.9"/>
<line x1="289.6" x2="292.4" y1="654" y2="654"/>
<line x1="289.6" x2="292.4" y1="620.1" y2="620.1"/>
<line x1="289.6" x2="292.4" y1="586.2" y2="586.2"/>
<line x1="289.6" x2="292.4" y1="552.3" y2="552.3"/>
<line x1="289.6" x2="292.4" y1="518.4" y2="518.4"/>
</g>
<g fill="#f61212">
<text x="295.7" y="691.3">−0.1</text>
<text x="295.7" y="657.4">0.0</text>
<text x="295.7" y="623.5">0.1</text>
<text x="295.7" y="589.6">0.2</text>
<text x="295.7" y="555.7">0.3</text>
<text x="295.7" y="521.8">0.4</text>
<text transform="translate(326.7 620.75) rotate(-90)" text-anchor="middle">Error</text>
</g>
<g id="leg5b">
<rect x="102.05" y="522.4" width="51" height="13.8" rx="1.6" fill="#fff" fill-opacity="0.8" stroke="#ccc" stroke-opacity="0.8" stroke-width="0.8"/>
<line x1="105.05" x2="123.05" y1="529.8" y2="529.8" stroke="#ee0f68" stroke-width="1.6"/>
<text x="129.65" y="532.7">Error</text>
</g>
<rect x="34.2" y="518.4" width="255.4" height="203.1" fill="none" stroke="#000" stroke-width="0.64"/>
</g>
</svg>
</div>
</body></html>
